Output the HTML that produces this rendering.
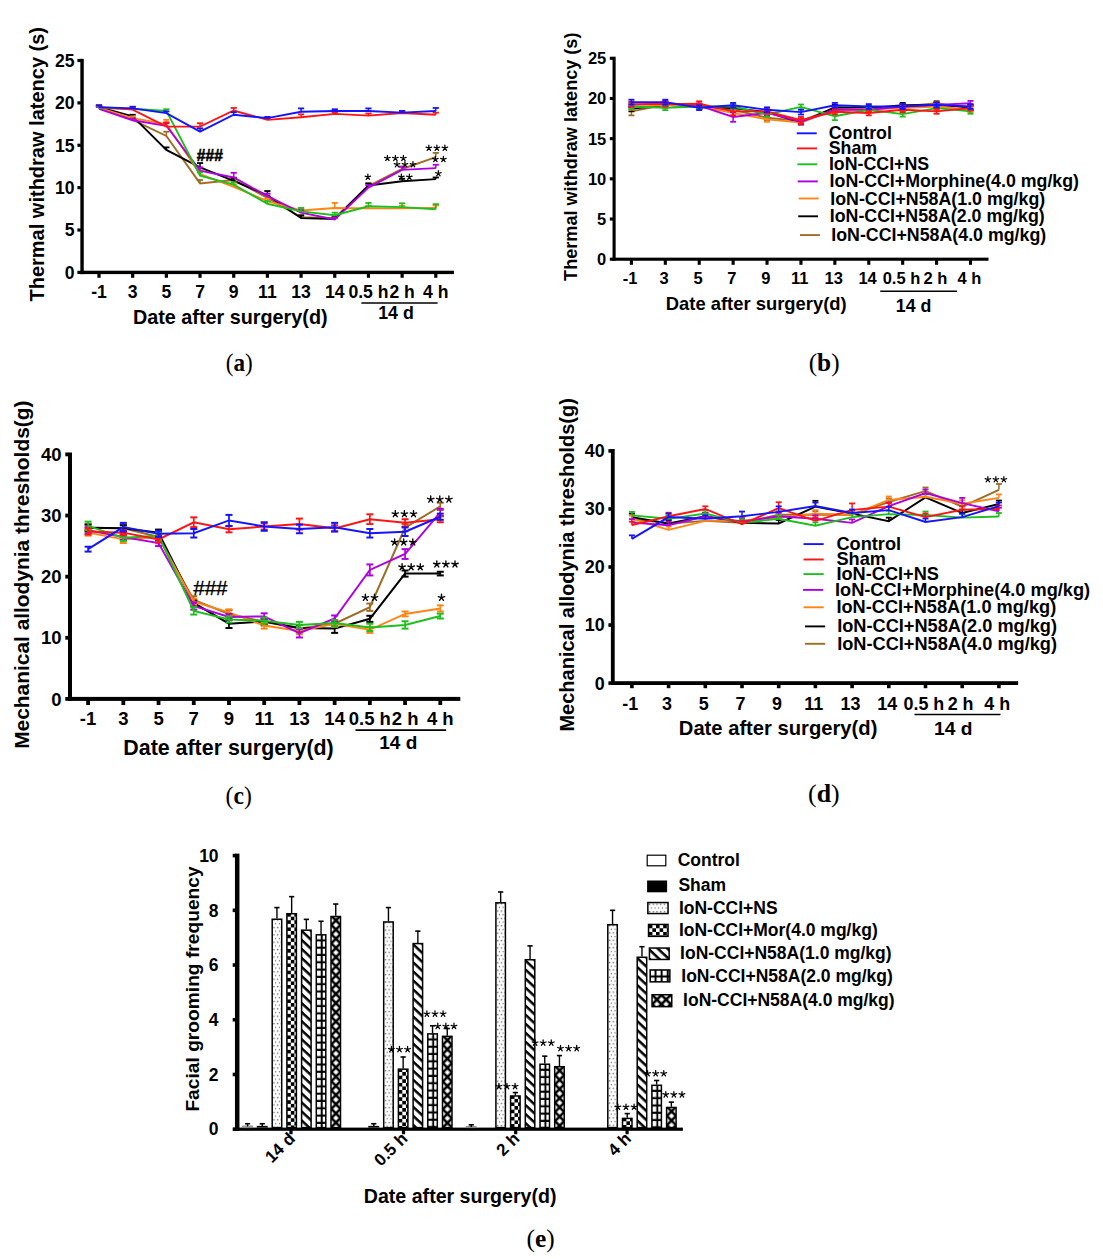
<!DOCTYPE html><html><head><meta charset="utf-8"><style>html,body{margin:0;padding:0;background:#fff;}svg{display:block;}</style></head><body>
<svg width="1103" height="1259" viewBox="0 0 1103 1259">
<rect width="1103" height="1259" fill="#fff"/>
<rect x="80.35" y="58.80" width="3.40" height="215.30" fill="#000" />
<rect x="80.35" y="270.70" width="373.55" height="3.40" fill="#000" />
<rect x="77.40" y="270.80" width="3.45" height="3.20" fill="#000" />
<text x="74.60" y="278.70" font-family='"Liberation Sans", sans-serif' font-size="17.6" font-weight="bold" text-anchor="end" fill="#000" >0</text>
<rect x="77.40" y="228.42" width="3.45" height="3.20" fill="#000" />
<text x="74.60" y="236.32" font-family='"Liberation Sans", sans-serif' font-size="17.6" font-weight="bold" text-anchor="end" fill="#000" >5</text>
<rect x="77.40" y="186.04" width="3.45" height="3.20" fill="#000" />
<text x="74.60" y="193.94" font-family='"Liberation Sans", sans-serif' font-size="17.6" font-weight="bold" text-anchor="end" fill="#000" >10</text>
<rect x="77.40" y="143.66" width="3.45" height="3.20" fill="#000" />
<text x="74.60" y="151.56" font-family='"Liberation Sans", sans-serif' font-size="17.6" font-weight="bold" text-anchor="end" fill="#000" >15</text>
<rect x="77.40" y="101.28" width="3.45" height="3.20" fill="#000" />
<text x="74.60" y="109.18" font-family='"Liberation Sans", sans-serif' font-size="17.6" font-weight="bold" text-anchor="end" fill="#000" >20</text>
<rect x="77.40" y="58.90" width="3.45" height="3.20" fill="#000" />
<text x="74.60" y="66.80" font-family='"Liberation Sans", sans-serif' font-size="17.6" font-weight="bold" text-anchor="end" fill="#000" >25</text>
<rect x="97.40" y="272.40" width="3.20" height="5.40" fill="#000" />
<rect x="131.08" y="272.40" width="3.20" height="5.40" fill="#000" />
<rect x="164.76" y="272.40" width="3.20" height="5.40" fill="#000" />
<rect x="198.44" y="272.40" width="3.20" height="5.40" fill="#000" />
<rect x="232.12" y="272.40" width="3.20" height="5.40" fill="#000" />
<rect x="265.80" y="272.40" width="3.20" height="5.40" fill="#000" />
<rect x="299.48" y="272.40" width="3.20" height="5.40" fill="#000" />
<rect x="333.16" y="272.40" width="3.20" height="5.40" fill="#000" />
<rect x="366.84" y="272.40" width="3.20" height="5.40" fill="#000" />
<rect x="400.52" y="272.40" width="3.20" height="5.40" fill="#000" />
<rect x="434.20" y="272.40" width="3.20" height="5.40" fill="#000" />
<text x="99.00" y="297.60" font-family='"Liberation Sans", sans-serif' font-size="17.6" font-weight="bold" text-anchor="middle" fill="#000" >-1</text>
<text x="132.68" y="297.60" font-family='"Liberation Sans", sans-serif' font-size="17.6" font-weight="bold" text-anchor="middle" fill="#000" >3</text>
<text x="166.36" y="297.60" font-family='"Liberation Sans", sans-serif' font-size="17.6" font-weight="bold" text-anchor="middle" fill="#000" >5</text>
<text x="200.04" y="297.60" font-family='"Liberation Sans", sans-serif' font-size="17.6" font-weight="bold" text-anchor="middle" fill="#000" >7</text>
<text x="233.72" y="297.60" font-family='"Liberation Sans", sans-serif' font-size="17.6" font-weight="bold" text-anchor="middle" fill="#000" >9</text>
<text x="267.40" y="297.60" font-family='"Liberation Sans", sans-serif' font-size="17.6" font-weight="bold" text-anchor="middle" fill="#000" >11</text>
<text x="301.08" y="297.60" font-family='"Liberation Sans", sans-serif' font-size="17.6" font-weight="bold" text-anchor="middle" fill="#000" >13</text>
<text x="334.76" y="297.60" font-family='"Liberation Sans", sans-serif' font-size="17.6" font-weight="bold" text-anchor="middle" fill="#000" >14</text>
<text x="368.44" y="297.60" font-family='"Liberation Sans", sans-serif' font-size="17.6" font-weight="bold" text-anchor="middle" fill="#000" >0.5 h</text>
<text x="402.12" y="297.60" font-family='"Liberation Sans", sans-serif' font-size="17.6" font-weight="bold" text-anchor="middle" fill="#000" >2 h</text>
<text x="435.80" y="297.60" font-family='"Liberation Sans", sans-serif' font-size="17.6" font-weight="bold" text-anchor="middle" fill="#000" >4 h</text>
<line x1="361.40" y1="303.00" x2="437.60" y2="303.00" stroke="#000" stroke-width="1.5" stroke-linecap="butt"/>
<text x="396.00" y="319.20" font-family='"Liberation Sans", sans-serif' font-size="17.8" font-weight="bold" text-anchor="middle" fill="#000" >14 d</text>
<text x="133.00" y="323.60" font-family='"Liberation Sans", sans-serif' font-size="19.8" font-weight="bold" text-anchor="start" fill="#000" >Date after surgery(d)</text>
<text x="0.00" y="0.00" font-family='"Liberation Sans", sans-serif' font-size="20.0" font-weight="bold" text-anchor="start" fill="#000" transform="translate(44.20,301.50) rotate(-90)">Thermal withdraw latency (s)</text>
<polyline points="99.00,107.97 132.68,119.83 166.36,135.94 200.04,183.40 233.72,180.01 267.40,197.81 301.08,217.31 334.76,218.15 368.44,185.94 402.12,168.99 435.80,157.13" fill="none" stroke="#9f6c26" stroke-width="1.9" stroke-linejoin="miter"/>
<line x1="99.00" y1="106.27" x2="99.00" y2="107.97" stroke="#9f6c26" stroke-width="1.5" stroke-linecap="butt"/>
<line x1="95.90" y1="106.27" x2="102.10" y2="106.27" stroke="#9f6c26" stroke-width="1.8" stroke-linecap="butt"/>
<line x1="132.68" y1="118.14" x2="132.68" y2="119.83" stroke="#9f6c26" stroke-width="1.5" stroke-linecap="butt"/>
<line x1="129.58" y1="118.14" x2="135.78" y2="118.14" stroke="#9f6c26" stroke-width="1.8" stroke-linecap="butt"/>
<line x1="166.36" y1="131.70" x2="166.36" y2="135.94" stroke="#9f6c26" stroke-width="1.5" stroke-linecap="butt"/>
<line x1="163.26" y1="131.70" x2="169.46" y2="131.70" stroke="#9f6c26" stroke-width="1.8" stroke-linecap="butt"/>
<line x1="200.04" y1="180.01" x2="200.04" y2="183.40" stroke="#9f6c26" stroke-width="1.5" stroke-linecap="butt"/>
<line x1="196.94" y1="180.01" x2="203.14" y2="180.01" stroke="#9f6c26" stroke-width="1.8" stroke-linecap="butt"/>
<line x1="233.72" y1="177.47" x2="233.72" y2="180.01" stroke="#9f6c26" stroke-width="1.5" stroke-linecap="butt"/>
<line x1="230.62" y1="177.47" x2="236.82" y2="177.47" stroke="#9f6c26" stroke-width="1.8" stroke-linecap="butt"/>
<line x1="267.40" y1="195.27" x2="267.40" y2="197.81" stroke="#9f6c26" stroke-width="1.5" stroke-linecap="butt"/>
<line x1="264.30" y1="195.27" x2="270.50" y2="195.27" stroke="#9f6c26" stroke-width="1.8" stroke-linecap="butt"/>
<line x1="301.08" y1="214.76" x2="301.08" y2="217.31" stroke="#9f6c26" stroke-width="1.5" stroke-linecap="butt"/>
<line x1="297.98" y1="214.76" x2="304.18" y2="214.76" stroke="#9f6c26" stroke-width="1.8" stroke-linecap="butt"/>
<line x1="334.76" y1="216.46" x2="334.76" y2="218.15" stroke="#9f6c26" stroke-width="1.5" stroke-linecap="butt"/>
<line x1="331.66" y1="216.46" x2="337.86" y2="216.46" stroke="#9f6c26" stroke-width="1.8" stroke-linecap="butt"/>
<line x1="368.44" y1="183.40" x2="368.44" y2="185.94" stroke="#9f6c26" stroke-width="1.5" stroke-linecap="butt"/>
<line x1="365.34" y1="183.40" x2="371.54" y2="183.40" stroke="#9f6c26" stroke-width="1.8" stroke-linecap="butt"/>
<line x1="402.12" y1="166.45" x2="402.12" y2="168.99" stroke="#9f6c26" stroke-width="1.5" stroke-linecap="butt"/>
<line x1="399.02" y1="166.45" x2="405.22" y2="166.45" stroke="#9f6c26" stroke-width="1.8" stroke-linecap="butt"/>
<line x1="435.80" y1="152.89" x2="435.80" y2="157.13" stroke="#9f6c26" stroke-width="1.5" stroke-linecap="butt"/>
<line x1="432.70" y1="152.89" x2="438.90" y2="152.89" stroke="#9f6c26" stroke-width="1.8" stroke-linecap="butt"/>
<polyline points="99.00,107.12 132.68,116.44 166.36,149.92 200.04,167.30 233.72,180.86 267.40,195.27 301.08,218.15 334.76,219.00 368.44,185.52 402.12,181.28 435.80,179.16" fill="none" stroke="#000000" stroke-width="1.9" stroke-linejoin="miter"/>
<line x1="99.00" y1="105.42" x2="99.00" y2="107.12" stroke="#000000" stroke-width="1.5" stroke-linecap="butt"/>
<line x1="95.90" y1="105.42" x2="102.10" y2="105.42" stroke="#000000" stroke-width="1.8" stroke-linecap="butt"/>
<line x1="132.68" y1="114.75" x2="132.68" y2="116.44" stroke="#000000" stroke-width="1.5" stroke-linecap="butt"/>
<line x1="129.58" y1="114.75" x2="135.78" y2="114.75" stroke="#000000" stroke-width="1.8" stroke-linecap="butt"/>
<line x1="166.36" y1="147.38" x2="166.36" y2="149.92" stroke="#000000" stroke-width="1.5" stroke-linecap="butt"/>
<line x1="163.26" y1="147.38" x2="169.46" y2="147.38" stroke="#000000" stroke-width="1.8" stroke-linecap="butt"/>
<line x1="200.04" y1="163.06" x2="200.04" y2="167.30" stroke="#000000" stroke-width="1.5" stroke-linecap="butt"/>
<line x1="196.94" y1="163.06" x2="203.14" y2="163.06" stroke="#000000" stroke-width="1.8" stroke-linecap="butt"/>
<line x1="233.72" y1="178.32" x2="233.72" y2="180.86" stroke="#000000" stroke-width="1.5" stroke-linecap="butt"/>
<line x1="230.62" y1="178.32" x2="236.82" y2="178.32" stroke="#000000" stroke-width="1.8" stroke-linecap="butt"/>
<line x1="267.40" y1="191.03" x2="267.40" y2="195.27" stroke="#000000" stroke-width="1.5" stroke-linecap="butt"/>
<line x1="264.30" y1="191.03" x2="270.50" y2="191.03" stroke="#000000" stroke-width="1.8" stroke-linecap="butt"/>
<line x1="301.08" y1="215.61" x2="301.08" y2="218.15" stroke="#000000" stroke-width="1.5" stroke-linecap="butt"/>
<line x1="297.98" y1="215.61" x2="304.18" y2="215.61" stroke="#000000" stroke-width="1.8" stroke-linecap="butt"/>
<line x1="334.76" y1="217.31" x2="334.76" y2="219.00" stroke="#000000" stroke-width="1.5" stroke-linecap="butt"/>
<line x1="331.66" y1="217.31" x2="337.86" y2="217.31" stroke="#000000" stroke-width="1.8" stroke-linecap="butt"/>
<line x1="368.44" y1="183.40" x2="368.44" y2="185.52" stroke="#000000" stroke-width="1.5" stroke-linecap="butt"/>
<line x1="365.34" y1="183.40" x2="371.54" y2="183.40" stroke="#000000" stroke-width="1.8" stroke-linecap="butt"/>
<line x1="402.12" y1="178.74" x2="402.12" y2="181.28" stroke="#000000" stroke-width="1.5" stroke-linecap="butt"/>
<line x1="399.02" y1="178.74" x2="405.22" y2="178.74" stroke="#000000" stroke-width="1.8" stroke-linecap="butt"/>
<line x1="435.80" y1="177.47" x2="435.80" y2="179.16" stroke="#000000" stroke-width="1.5" stroke-linecap="butt"/>
<line x1="432.70" y1="177.47" x2="438.90" y2="177.47" stroke="#000000" stroke-width="1.8" stroke-linecap="butt"/>
<polyline points="99.00,107.97 132.68,118.14 166.36,124.07 200.04,174.08 233.72,186.79 267.40,201.20 301.08,210.53 334.76,207.98 368.44,208.41 402.12,208.41 435.80,207.98" fill="none" stroke="#ff8414" stroke-width="1.9" stroke-linejoin="miter"/>
<line x1="99.00" y1="106.27" x2="99.00" y2="107.97" stroke="#ff8414" stroke-width="1.5" stroke-linecap="butt"/>
<line x1="95.90" y1="106.27" x2="102.10" y2="106.27" stroke="#ff8414" stroke-width="1.8" stroke-linecap="butt"/>
<line x1="132.68" y1="116.44" x2="132.68" y2="118.14" stroke="#ff8414" stroke-width="1.5" stroke-linecap="butt"/>
<line x1="129.58" y1="116.44" x2="135.78" y2="116.44" stroke="#ff8414" stroke-width="1.8" stroke-linecap="butt"/>
<line x1="166.36" y1="119.83" x2="166.36" y2="124.07" stroke="#ff8414" stroke-width="1.5" stroke-linecap="butt"/>
<line x1="163.26" y1="119.83" x2="169.46" y2="119.83" stroke="#ff8414" stroke-width="1.8" stroke-linecap="butt"/>
<line x1="200.04" y1="170.69" x2="200.04" y2="174.08" stroke="#ff8414" stroke-width="1.5" stroke-linecap="butt"/>
<line x1="196.94" y1="170.69" x2="203.14" y2="170.69" stroke="#ff8414" stroke-width="1.8" stroke-linecap="butt"/>
<line x1="233.72" y1="184.25" x2="233.72" y2="186.79" stroke="#ff8414" stroke-width="1.5" stroke-linecap="butt"/>
<line x1="230.62" y1="184.25" x2="236.82" y2="184.25" stroke="#ff8414" stroke-width="1.8" stroke-linecap="butt"/>
<line x1="267.40" y1="198.66" x2="267.40" y2="201.20" stroke="#ff8414" stroke-width="1.5" stroke-linecap="butt"/>
<line x1="264.30" y1="198.66" x2="270.50" y2="198.66" stroke="#ff8414" stroke-width="1.8" stroke-linecap="butt"/>
<line x1="301.08" y1="207.98" x2="301.08" y2="210.53" stroke="#ff8414" stroke-width="1.5" stroke-linecap="butt"/>
<line x1="297.98" y1="207.98" x2="304.18" y2="207.98" stroke="#ff8414" stroke-width="1.8" stroke-linecap="butt"/>
<line x1="334.76" y1="202.90" x2="334.76" y2="207.98" stroke="#ff8414" stroke-width="1.5" stroke-linecap="butt"/>
<line x1="331.66" y1="202.90" x2="337.86" y2="202.90" stroke="#ff8414" stroke-width="1.8" stroke-linecap="butt"/>
<line x1="368.44" y1="205.86" x2="368.44" y2="208.41" stroke="#ff8414" stroke-width="1.5" stroke-linecap="butt"/>
<line x1="365.34" y1="205.86" x2="371.54" y2="205.86" stroke="#ff8414" stroke-width="1.8" stroke-linecap="butt"/>
<line x1="402.12" y1="205.86" x2="402.12" y2="208.41" stroke="#ff8414" stroke-width="1.5" stroke-linecap="butt"/>
<line x1="399.02" y1="205.86" x2="405.22" y2="205.86" stroke="#ff8414" stroke-width="1.8" stroke-linecap="butt"/>
<line x1="435.80" y1="205.44" x2="435.80" y2="207.98" stroke="#ff8414" stroke-width="1.5" stroke-linecap="butt"/>
<line x1="432.70" y1="205.44" x2="438.90" y2="205.44" stroke="#ff8414" stroke-width="1.8" stroke-linecap="butt"/>
<polyline points="99.00,108.81 132.68,120.26 166.36,125.77 200.04,170.69 233.72,177.47 267.40,196.12 301.08,212.64 334.76,219.42 368.44,187.64 402.12,169.84 435.80,168.15" fill="none" stroke="#b000e2" stroke-width="1.9" stroke-linejoin="miter"/>
<line x1="99.00" y1="107.12" x2="99.00" y2="108.81" stroke="#b000e2" stroke-width="1.5" stroke-linecap="butt"/>
<line x1="95.90" y1="107.12" x2="102.10" y2="107.12" stroke="#b000e2" stroke-width="1.8" stroke-linecap="butt"/>
<line x1="132.68" y1="118.56" x2="132.68" y2="120.26" stroke="#b000e2" stroke-width="1.5" stroke-linecap="butt"/>
<line x1="129.58" y1="118.56" x2="135.78" y2="118.56" stroke="#b000e2" stroke-width="1.8" stroke-linecap="butt"/>
<line x1="166.36" y1="123.22" x2="166.36" y2="125.77" stroke="#b000e2" stroke-width="1.5" stroke-linecap="butt"/>
<line x1="163.26" y1="123.22" x2="169.46" y2="123.22" stroke="#b000e2" stroke-width="1.8" stroke-linecap="butt"/>
<line x1="200.04" y1="167.30" x2="200.04" y2="170.69" stroke="#b000e2" stroke-width="1.5" stroke-linecap="butt"/>
<line x1="196.94" y1="167.30" x2="203.14" y2="167.30" stroke="#b000e2" stroke-width="1.8" stroke-linecap="butt"/>
<line x1="233.72" y1="172.81" x2="233.72" y2="177.47" stroke="#b000e2" stroke-width="1.5" stroke-linecap="butt"/>
<line x1="230.62" y1="172.81" x2="236.82" y2="172.81" stroke="#b000e2" stroke-width="1.8" stroke-linecap="butt"/>
<line x1="267.40" y1="193.57" x2="267.40" y2="196.12" stroke="#b000e2" stroke-width="1.5" stroke-linecap="butt"/>
<line x1="264.30" y1="193.57" x2="270.50" y2="193.57" stroke="#b000e2" stroke-width="1.8" stroke-linecap="butt"/>
<line x1="301.08" y1="210.10" x2="301.08" y2="212.64" stroke="#b000e2" stroke-width="1.5" stroke-linecap="butt"/>
<line x1="297.98" y1="210.10" x2="304.18" y2="210.10" stroke="#b000e2" stroke-width="1.8" stroke-linecap="butt"/>
<line x1="334.76" y1="217.73" x2="334.76" y2="219.42" stroke="#b000e2" stroke-width="1.5" stroke-linecap="butt"/>
<line x1="331.66" y1="217.73" x2="337.86" y2="217.73" stroke="#b000e2" stroke-width="1.8" stroke-linecap="butt"/>
<line x1="368.44" y1="185.10" x2="368.44" y2="187.64" stroke="#b000e2" stroke-width="1.5" stroke-linecap="butt"/>
<line x1="365.34" y1="185.10" x2="371.54" y2="185.10" stroke="#b000e2" stroke-width="1.8" stroke-linecap="butt"/>
<line x1="402.12" y1="166.87" x2="402.12" y2="169.84" stroke="#b000e2" stroke-width="1.5" stroke-linecap="butt"/>
<line x1="399.02" y1="166.87" x2="405.22" y2="166.87" stroke="#b000e2" stroke-width="1.8" stroke-linecap="butt"/>
<line x1="435.80" y1="164.75" x2="435.80" y2="168.15" stroke="#b000e2" stroke-width="1.5" stroke-linecap="butt"/>
<line x1="432.70" y1="164.75" x2="438.90" y2="164.75" stroke="#b000e2" stroke-width="1.8" stroke-linecap="butt"/>
<polyline points="99.00,107.97 132.68,108.81 166.36,110.93 200.04,175.77 233.72,184.67 267.40,203.74 301.08,211.37 334.76,215.19 368.44,206.29 402.12,207.13 435.80,209.25" fill="none" stroke="#1ebe1e" stroke-width="1.9" stroke-linejoin="miter"/>
<line x1="99.00" y1="106.27" x2="99.00" y2="107.97" stroke="#1ebe1e" stroke-width="1.5" stroke-linecap="butt"/>
<line x1="95.90" y1="106.27" x2="102.10" y2="106.27" stroke="#1ebe1e" stroke-width="1.8" stroke-linecap="butt"/>
<line x1="132.68" y1="107.12" x2="132.68" y2="108.81" stroke="#1ebe1e" stroke-width="1.5" stroke-linecap="butt"/>
<line x1="129.58" y1="107.12" x2="135.78" y2="107.12" stroke="#1ebe1e" stroke-width="1.8" stroke-linecap="butt"/>
<line x1="166.36" y1="109.24" x2="166.36" y2="110.93" stroke="#1ebe1e" stroke-width="1.5" stroke-linecap="butt"/>
<line x1="163.26" y1="109.24" x2="169.46" y2="109.24" stroke="#1ebe1e" stroke-width="1.8" stroke-linecap="butt"/>
<line x1="200.04" y1="172.38" x2="200.04" y2="175.77" stroke="#1ebe1e" stroke-width="1.5" stroke-linecap="butt"/>
<line x1="196.94" y1="172.38" x2="203.14" y2="172.38" stroke="#1ebe1e" stroke-width="1.8" stroke-linecap="butt"/>
<line x1="233.72" y1="182.13" x2="233.72" y2="184.67" stroke="#1ebe1e" stroke-width="1.5" stroke-linecap="butt"/>
<line x1="230.62" y1="182.13" x2="236.82" y2="182.13" stroke="#1ebe1e" stroke-width="1.8" stroke-linecap="butt"/>
<line x1="267.40" y1="201.20" x2="267.40" y2="203.74" stroke="#1ebe1e" stroke-width="1.5" stroke-linecap="butt"/>
<line x1="264.30" y1="201.20" x2="270.50" y2="201.20" stroke="#1ebe1e" stroke-width="1.8" stroke-linecap="butt"/>
<line x1="301.08" y1="207.98" x2="301.08" y2="211.37" stroke="#1ebe1e" stroke-width="1.5" stroke-linecap="butt"/>
<line x1="297.98" y1="207.98" x2="304.18" y2="207.98" stroke="#1ebe1e" stroke-width="1.8" stroke-linecap="butt"/>
<line x1="334.76" y1="212.64" x2="334.76" y2="215.19" stroke="#1ebe1e" stroke-width="1.5" stroke-linecap="butt"/>
<line x1="331.66" y1="212.64" x2="337.86" y2="212.64" stroke="#1ebe1e" stroke-width="1.8" stroke-linecap="butt"/>
<line x1="368.44" y1="202.90" x2="368.44" y2="206.29" stroke="#1ebe1e" stroke-width="1.5" stroke-linecap="butt"/>
<line x1="365.34" y1="202.90" x2="371.54" y2="202.90" stroke="#1ebe1e" stroke-width="1.8" stroke-linecap="butt"/>
<line x1="402.12" y1="203.32" x2="402.12" y2="207.13" stroke="#1ebe1e" stroke-width="1.5" stroke-linecap="butt"/>
<line x1="399.02" y1="203.32" x2="405.22" y2="203.32" stroke="#1ebe1e" stroke-width="1.8" stroke-linecap="butt"/>
<line x1="435.80" y1="204.17" x2="435.80" y2="209.25" stroke="#1ebe1e" stroke-width="1.5" stroke-linecap="butt"/>
<line x1="432.70" y1="204.17" x2="438.90" y2="204.17" stroke="#1ebe1e" stroke-width="1.8" stroke-linecap="butt"/>
<polyline points="99.00,107.12 132.68,109.66 166.36,126.61 200.04,126.61 233.72,110.51 267.40,119.83 301.08,117.29 334.76,113.90 368.44,115.59 402.12,113.05 435.80,114.75" fill="none" stroke="#ff1414" stroke-width="1.9" stroke-linejoin="miter"/>
<line x1="99.00" y1="105.42" x2="99.00" y2="107.12" stroke="#ff1414" stroke-width="1.5" stroke-linecap="butt"/>
<line x1="95.90" y1="105.42" x2="102.10" y2="105.42" stroke="#ff1414" stroke-width="1.8" stroke-linecap="butt"/>
<line x1="132.68" y1="107.97" x2="132.68" y2="109.66" stroke="#ff1414" stroke-width="1.5" stroke-linecap="butt"/>
<line x1="129.58" y1="107.97" x2="135.78" y2="107.97" stroke="#ff1414" stroke-width="1.8" stroke-linecap="butt"/>
<line x1="166.36" y1="122.37" x2="166.36" y2="126.61" stroke="#ff1414" stroke-width="1.5" stroke-linecap="butt"/>
<line x1="163.26" y1="122.37" x2="169.46" y2="122.37" stroke="#ff1414" stroke-width="1.8" stroke-linecap="butt"/>
<line x1="200.04" y1="123.22" x2="200.04" y2="126.61" stroke="#ff1414" stroke-width="1.5" stroke-linecap="butt"/>
<line x1="196.94" y1="123.22" x2="203.14" y2="123.22" stroke="#ff1414" stroke-width="1.8" stroke-linecap="butt"/>
<line x1="233.72" y1="107.97" x2="233.72" y2="110.51" stroke="#ff1414" stroke-width="1.5" stroke-linecap="butt"/>
<line x1="230.62" y1="107.97" x2="236.82" y2="107.97" stroke="#ff1414" stroke-width="1.8" stroke-linecap="butt"/>
<line x1="267.40" y1="118.56" x2="267.40" y2="119.83" stroke="#ff1414" stroke-width="1.5" stroke-linecap="butt"/>
<line x1="264.30" y1="118.56" x2="270.50" y2="118.56" stroke="#ff1414" stroke-width="1.8" stroke-linecap="butt"/>
<line x1="301.08" y1="114.32" x2="301.08" y2="117.29" stroke="#ff1414" stroke-width="1.5" stroke-linecap="butt"/>
<line x1="297.98" y1="114.32" x2="304.18" y2="114.32" stroke="#ff1414" stroke-width="1.8" stroke-linecap="butt"/>
<line x1="334.76" y1="112.20" x2="334.76" y2="113.90" stroke="#ff1414" stroke-width="1.5" stroke-linecap="butt"/>
<line x1="331.66" y1="112.20" x2="337.86" y2="112.20" stroke="#ff1414" stroke-width="1.8" stroke-linecap="butt"/>
<line x1="368.44" y1="113.47" x2="368.44" y2="115.59" stroke="#ff1414" stroke-width="1.5" stroke-linecap="butt"/>
<line x1="365.34" y1="113.47" x2="371.54" y2="113.47" stroke="#ff1414" stroke-width="1.8" stroke-linecap="butt"/>
<line x1="402.12" y1="111.36" x2="402.12" y2="113.05" stroke="#ff1414" stroke-width="1.5" stroke-linecap="butt"/>
<line x1="399.02" y1="111.36" x2="405.22" y2="111.36" stroke="#ff1414" stroke-width="1.8" stroke-linecap="butt"/>
<line x1="435.80" y1="112.63" x2="435.80" y2="114.75" stroke="#ff1414" stroke-width="1.5" stroke-linecap="butt"/>
<line x1="432.70" y1="112.63" x2="438.90" y2="112.63" stroke="#ff1414" stroke-width="1.8" stroke-linecap="butt"/>
<polyline points="99.00,107.12 132.68,108.39 166.36,113.05 200.04,131.70 233.72,114.75 267.40,118.14 301.08,111.78 334.76,110.93 368.44,110.93 402.12,112.63 435.80,110.93" fill="none" stroke="#1414ff" stroke-width="1.9" stroke-linejoin="miter"/>
<line x1="99.00" y1="105.42" x2="99.00" y2="107.12" stroke="#1414ff" stroke-width="1.5" stroke-linecap="butt"/>
<line x1="95.90" y1="105.42" x2="102.10" y2="105.42" stroke="#1414ff" stroke-width="1.8" stroke-linecap="butt"/>
<line x1="132.68" y1="106.69" x2="132.68" y2="108.39" stroke="#1414ff" stroke-width="1.5" stroke-linecap="butt"/>
<line x1="129.58" y1="106.69" x2="135.78" y2="106.69" stroke="#1414ff" stroke-width="1.8" stroke-linecap="butt"/>
<line x1="166.36" y1="111.36" x2="166.36" y2="113.05" stroke="#1414ff" stroke-width="1.5" stroke-linecap="butt"/>
<line x1="163.26" y1="111.36" x2="169.46" y2="111.36" stroke="#1414ff" stroke-width="1.8" stroke-linecap="butt"/>
<line x1="200.04" y1="128.31" x2="200.04" y2="131.70" stroke="#1414ff" stroke-width="1.5" stroke-linecap="butt"/>
<line x1="196.94" y1="128.31" x2="203.14" y2="128.31" stroke="#1414ff" stroke-width="1.8" stroke-linecap="butt"/>
<line x1="233.72" y1="112.20" x2="233.72" y2="114.75" stroke="#1414ff" stroke-width="1.5" stroke-linecap="butt"/>
<line x1="230.62" y1="112.20" x2="236.82" y2="112.20" stroke="#1414ff" stroke-width="1.8" stroke-linecap="butt"/>
<line x1="267.40" y1="116.87" x2="267.40" y2="118.14" stroke="#1414ff" stroke-width="1.5" stroke-linecap="butt"/>
<line x1="264.30" y1="116.87" x2="270.50" y2="116.87" stroke="#1414ff" stroke-width="1.8" stroke-linecap="butt"/>
<line x1="301.08" y1="108.39" x2="301.08" y2="111.78" stroke="#1414ff" stroke-width="1.5" stroke-linecap="butt"/>
<line x1="297.98" y1="108.39" x2="304.18" y2="108.39" stroke="#1414ff" stroke-width="1.8" stroke-linecap="butt"/>
<line x1="334.76" y1="109.24" x2="334.76" y2="110.93" stroke="#1414ff" stroke-width="1.5" stroke-linecap="butt"/>
<line x1="331.66" y1="109.24" x2="337.86" y2="109.24" stroke="#1414ff" stroke-width="1.8" stroke-linecap="butt"/>
<line x1="368.44" y1="108.39" x2="368.44" y2="110.93" stroke="#1414ff" stroke-width="1.5" stroke-linecap="butt"/>
<line x1="365.34" y1="108.39" x2="371.54" y2="108.39" stroke="#1414ff" stroke-width="1.8" stroke-linecap="butt"/>
<line x1="402.12" y1="110.93" x2="402.12" y2="112.63" stroke="#1414ff" stroke-width="1.5" stroke-linecap="butt"/>
<line x1="399.02" y1="110.93" x2="405.22" y2="110.93" stroke="#1414ff" stroke-width="1.8" stroke-linecap="butt"/>
<line x1="435.80" y1="107.97" x2="435.80" y2="110.93" stroke="#1414ff" stroke-width="1.5" stroke-linecap="butt"/>
<line x1="432.70" y1="107.97" x2="438.90" y2="107.97" stroke="#1414ff" stroke-width="1.8" stroke-linecap="butt"/>
<text x="196.80" y="160.60" font-family='"Liberation Sans", sans-serif' font-size="15.6" font-weight="bold" text-anchor="start" fill="#000" stroke="#000" stroke-width="0.55">###</text>
<path d="M428.88,148.03L428.88,145.12M428.88,148.03L431.64,147.13M428.88,148.03L430.59,150.37M428.88,148.03L427.18,150.37M428.88,148.03L426.12,147.13" stroke="#000" stroke-width="1.25" stroke-linecap="round" fill="none"/>
<path d="M436.88,148.03L436.88,145.12M436.88,148.03L439.64,147.13M436.88,148.03L438.59,150.37M436.88,148.03L435.18,150.37M436.88,148.03L434.12,147.13" stroke="#000" stroke-width="1.25" stroke-linecap="round" fill="none"/>
<path d="M444.88,148.03L444.88,145.12M444.88,148.03L447.64,147.13M444.88,148.03L446.59,150.37M444.88,148.03L443.18,150.37M444.88,148.03L442.12,147.13" stroke="#000" stroke-width="1.25" stroke-linecap="round" fill="none"/>
<path d="M435.38,159.33L435.38,156.43M435.38,159.33L438.14,158.43M435.38,159.33L437.09,161.67M435.38,159.33L433.68,161.67M435.38,159.33L432.62,158.43" stroke="#000" stroke-width="1.25" stroke-linecap="round" fill="none"/>
<path d="M443.38,159.33L443.38,156.43M443.38,159.33L446.14,158.43M443.38,159.33L445.09,161.67M443.38,159.33L441.68,161.67M443.38,159.33L440.62,158.43" stroke="#000" stroke-width="1.25" stroke-linecap="round" fill="none"/>
<path d="M438.38,173.53L438.38,170.62M438.38,173.53L441.14,172.63M438.38,173.53L440.09,175.87M438.38,173.53L436.68,175.87M438.38,173.53L435.62,172.63" stroke="#000" stroke-width="1.25" stroke-linecap="round" fill="none"/>
<path d="M387.38,158.22L387.38,155.32M387.38,158.22L390.14,157.33M387.38,158.22L389.09,160.57M387.38,158.22L385.68,160.57M387.38,158.22L384.62,157.33" stroke="#000" stroke-width="1.25" stroke-linecap="round" fill="none"/>
<path d="M395.38,158.22L395.38,155.32M395.38,158.22L398.14,157.33M395.38,158.22L397.09,160.57M395.38,158.22L393.68,160.57M395.38,158.22L392.62,157.33" stroke="#000" stroke-width="1.25" stroke-linecap="round" fill="none"/>
<path d="M403.38,158.22L403.38,155.32M403.38,158.22L406.14,157.33M403.38,158.22L405.09,160.57M403.38,158.22L401.68,160.57M403.38,158.22L400.62,157.33" stroke="#000" stroke-width="1.25" stroke-linecap="round" fill="none"/>
<path d="M396.98,164.53L396.98,161.62M396.98,164.53L399.74,163.63M396.98,164.53L398.69,166.87M396.98,164.53L395.28,166.87M396.98,164.53L394.22,163.63" stroke="#000" stroke-width="1.25" stroke-linecap="round" fill="none"/>
<path d="M404.98,164.53L404.98,161.62M404.98,164.53L407.74,163.63M404.98,164.53L406.69,166.87M404.98,164.53L403.28,166.87M404.98,164.53L402.22,163.63" stroke="#000" stroke-width="1.25" stroke-linecap="round" fill="none"/>
<path d="M412.98,164.53L412.98,161.62M412.98,164.53L415.74,163.63M412.98,164.53L414.69,166.87M412.98,164.53L411.28,166.87M412.98,164.53L410.22,163.63" stroke="#000" stroke-width="1.25" stroke-linecap="round" fill="none"/>
<path d="M401.38,177.03L401.38,174.12M401.38,177.03L404.14,176.13M401.38,177.03L403.09,179.37M401.38,177.03L399.68,179.37M401.38,177.03L398.62,176.13" stroke="#000" stroke-width="1.25" stroke-linecap="round" fill="none"/>
<path d="M409.38,177.03L409.38,174.12M409.38,177.03L412.14,176.13M409.38,177.03L411.09,179.37M409.38,177.03L407.68,179.37M409.38,177.03L406.62,176.13" stroke="#000" stroke-width="1.25" stroke-linecap="round" fill="none"/>
<path d="M367.88,177.03L367.88,174.12M367.88,177.03L370.64,176.13M367.88,177.03L369.59,179.37M367.88,177.03L366.18,179.37M367.88,177.03L365.12,176.13" stroke="#000" stroke-width="1.25" stroke-linecap="round" fill="none"/>
<rect x="612.55" y="56.70" width="3.10" height="204.05" fill="#000" />
<rect x="612.55" y="257.65" width="375.95" height="3.10" fill="#000" />
<rect x="609.80" y="257.65" width="3.25" height="3.10" fill="#000" />
<text x="606.30" y="265.20" font-family='"Liberation Sans", sans-serif' font-size="16.5" font-weight="bold" text-anchor="end" fill="#000" >0</text>
<rect x="609.80" y="217.47" width="3.25" height="3.10" fill="#000" />
<text x="606.30" y="225.02" font-family='"Liberation Sans", sans-serif' font-size="16.5" font-weight="bold" text-anchor="end" fill="#000" >5</text>
<rect x="609.80" y="177.29" width="3.25" height="3.10" fill="#000" />
<text x="606.30" y="184.84" font-family='"Liberation Sans", sans-serif' font-size="16.5" font-weight="bold" text-anchor="end" fill="#000" >10</text>
<rect x="609.80" y="137.11" width="3.25" height="3.10" fill="#000" />
<text x="606.30" y="144.66" font-family='"Liberation Sans", sans-serif' font-size="16.5" font-weight="bold" text-anchor="end" fill="#000" >15</text>
<rect x="609.80" y="96.93" width="3.25" height="3.10" fill="#000" />
<text x="606.30" y="104.48" font-family='"Liberation Sans", sans-serif' font-size="16.5" font-weight="bold" text-anchor="end" fill="#000" >20</text>
<rect x="609.80" y="56.75" width="3.25" height="3.10" fill="#000" />
<text x="606.30" y="64.30" font-family='"Liberation Sans", sans-serif' font-size="16.5" font-weight="bold" text-anchor="end" fill="#000" >25</text>
<rect x="629.85" y="259.20" width="3.10" height="5.60" fill="#000" />
<rect x="663.76" y="259.20" width="3.10" height="5.60" fill="#000" />
<rect x="697.67" y="259.20" width="3.10" height="5.60" fill="#000" />
<rect x="731.58" y="259.20" width="3.10" height="5.60" fill="#000" />
<rect x="765.49" y="259.20" width="3.10" height="5.60" fill="#000" />
<rect x="799.40" y="259.20" width="3.10" height="5.60" fill="#000" />
<rect x="833.31" y="259.20" width="3.10" height="5.60" fill="#000" />
<rect x="867.22" y="259.20" width="3.10" height="5.60" fill="#000" />
<rect x="901.13" y="259.20" width="3.10" height="5.60" fill="#000" />
<rect x="935.04" y="259.20" width="3.10" height="5.60" fill="#000" />
<rect x="968.95" y="259.20" width="3.10" height="5.60" fill="#000" />
<text x="630.20" y="283.60" font-family='"Liberation Sans", sans-serif' font-size="16.5" font-weight="bold" text-anchor="middle" fill="#000" >-1</text>
<text x="664.11" y="283.60" font-family='"Liberation Sans", sans-serif' font-size="16.5" font-weight="bold" text-anchor="middle" fill="#000" >3</text>
<text x="698.02" y="283.60" font-family='"Liberation Sans", sans-serif' font-size="16.5" font-weight="bold" text-anchor="middle" fill="#000" >5</text>
<text x="731.93" y="283.60" font-family='"Liberation Sans", sans-serif' font-size="16.5" font-weight="bold" text-anchor="middle" fill="#000" >7</text>
<text x="765.84" y="283.60" font-family='"Liberation Sans", sans-serif' font-size="16.5" font-weight="bold" text-anchor="middle" fill="#000" >9</text>
<text x="799.75" y="283.60" font-family='"Liberation Sans", sans-serif' font-size="16.5" font-weight="bold" text-anchor="middle" fill="#000" >11</text>
<text x="833.66" y="283.60" font-family='"Liberation Sans", sans-serif' font-size="16.5" font-weight="bold" text-anchor="middle" fill="#000" >13</text>
<text x="867.57" y="283.60" font-family='"Liberation Sans", sans-serif' font-size="16.5" font-weight="bold" text-anchor="middle" fill="#000" >14</text>
<text x="901.48" y="283.60" font-family='"Liberation Sans", sans-serif' font-size="16.5" font-weight="bold" text-anchor="middle" fill="#000" >0.5 h</text>
<text x="935.39" y="283.60" font-family='"Liberation Sans", sans-serif' font-size="16.5" font-weight="bold" text-anchor="middle" fill="#000" >2 h</text>
<text x="969.30" y="283.60" font-family='"Liberation Sans", sans-serif' font-size="16.5" font-weight="bold" text-anchor="middle" fill="#000" >4 h</text>
<line x1="880.30" y1="291.30" x2="957.00" y2="291.30" stroke="#000" stroke-width="1.5" stroke-linecap="butt"/>
<text x="913.60" y="312.40" font-family='"Liberation Sans", sans-serif' font-size="17.8" font-weight="bold" text-anchor="middle" fill="#000" >14 d</text>
<text x="665.80" y="310.00" font-family='"Liberation Sans", sans-serif' font-size="18.4" font-weight="bold" text-anchor="start" fill="#000" >Date after surgery(d)</text>
<text x="0.00" y="0.00" font-family='"Liberation Sans", sans-serif' font-size="18.1" font-weight="bold" text-anchor="start" fill="#000" transform="translate(576.70,280.90) rotate(-90)">Thermal withdraw latency (s)</text>
<polyline points="631.40,111.34 665.31,104.91 699.22,106.52 733.13,109.73 767.04,117.77 800.95,120.98 834.86,108.12 868.77,109.73 902.68,106.52 936.59,103.30 970.50,108.12" fill="none" stroke="#9f6c26" stroke-width="1.9" stroke-linejoin="miter"/>
<line x1="631.40" y1="107.32" x2="631.40" y2="115.36" stroke="#9f6c26" stroke-width="1.5" stroke-linecap="butt"/>
<line x1="628.40" y1="107.32" x2="634.40" y2="107.32" stroke="#9f6c26" stroke-width="1.8" stroke-linecap="butt"/>
<line x1="628.40" y1="115.36" x2="634.40" y2="115.36" stroke="#9f6c26" stroke-width="1.8" stroke-linecap="butt"/>
<line x1="665.31" y1="102.50" x2="665.31" y2="107.32" stroke="#9f6c26" stroke-width="1.5" stroke-linecap="butt"/>
<line x1="662.31" y1="102.50" x2="668.31" y2="102.50" stroke="#9f6c26" stroke-width="1.8" stroke-linecap="butt"/>
<line x1="662.31" y1="107.32" x2="668.31" y2="107.32" stroke="#9f6c26" stroke-width="1.8" stroke-linecap="butt"/>
<line x1="699.22" y1="104.11" x2="699.22" y2="108.93" stroke="#9f6c26" stroke-width="1.5" stroke-linecap="butt"/>
<line x1="696.22" y1="104.11" x2="702.22" y2="104.11" stroke="#9f6c26" stroke-width="1.8" stroke-linecap="butt"/>
<line x1="696.22" y1="108.93" x2="702.22" y2="108.93" stroke="#9f6c26" stroke-width="1.8" stroke-linecap="butt"/>
<line x1="733.13" y1="107.32" x2="733.13" y2="112.14" stroke="#9f6c26" stroke-width="1.5" stroke-linecap="butt"/>
<line x1="730.13" y1="107.32" x2="736.13" y2="107.32" stroke="#9f6c26" stroke-width="1.8" stroke-linecap="butt"/>
<line x1="730.13" y1="112.14" x2="736.13" y2="112.14" stroke="#9f6c26" stroke-width="1.8" stroke-linecap="butt"/>
<line x1="767.04" y1="115.36" x2="767.04" y2="120.18" stroke="#9f6c26" stroke-width="1.5" stroke-linecap="butt"/>
<line x1="764.04" y1="115.36" x2="770.04" y2="115.36" stroke="#9f6c26" stroke-width="1.8" stroke-linecap="butt"/>
<line x1="764.04" y1="120.18" x2="770.04" y2="120.18" stroke="#9f6c26" stroke-width="1.8" stroke-linecap="butt"/>
<line x1="800.95" y1="118.57" x2="800.95" y2="123.39" stroke="#9f6c26" stroke-width="1.5" stroke-linecap="butt"/>
<line x1="797.95" y1="118.57" x2="803.95" y2="118.57" stroke="#9f6c26" stroke-width="1.8" stroke-linecap="butt"/>
<line x1="797.95" y1="123.39" x2="803.95" y2="123.39" stroke="#9f6c26" stroke-width="1.8" stroke-linecap="butt"/>
<line x1="834.86" y1="105.71" x2="834.86" y2="110.53" stroke="#9f6c26" stroke-width="1.5" stroke-linecap="butt"/>
<line x1="831.86" y1="105.71" x2="837.86" y2="105.71" stroke="#9f6c26" stroke-width="1.8" stroke-linecap="butt"/>
<line x1="831.86" y1="110.53" x2="837.86" y2="110.53" stroke="#9f6c26" stroke-width="1.8" stroke-linecap="butt"/>
<line x1="868.77" y1="107.32" x2="868.77" y2="112.14" stroke="#9f6c26" stroke-width="1.5" stroke-linecap="butt"/>
<line x1="865.77" y1="107.32" x2="871.77" y2="107.32" stroke="#9f6c26" stroke-width="1.8" stroke-linecap="butt"/>
<line x1="865.77" y1="112.14" x2="871.77" y2="112.14" stroke="#9f6c26" stroke-width="1.8" stroke-linecap="butt"/>
<line x1="902.68" y1="104.11" x2="902.68" y2="108.93" stroke="#9f6c26" stroke-width="1.5" stroke-linecap="butt"/>
<line x1="899.68" y1="104.11" x2="905.68" y2="104.11" stroke="#9f6c26" stroke-width="1.8" stroke-linecap="butt"/>
<line x1="899.68" y1="108.93" x2="905.68" y2="108.93" stroke="#9f6c26" stroke-width="1.8" stroke-linecap="butt"/>
<line x1="936.59" y1="100.89" x2="936.59" y2="105.71" stroke="#9f6c26" stroke-width="1.5" stroke-linecap="butt"/>
<line x1="933.59" y1="100.89" x2="939.59" y2="100.89" stroke="#9f6c26" stroke-width="1.8" stroke-linecap="butt"/>
<line x1="933.59" y1="105.71" x2="939.59" y2="105.71" stroke="#9f6c26" stroke-width="1.8" stroke-linecap="butt"/>
<line x1="970.50" y1="105.71" x2="970.50" y2="110.53" stroke="#9f6c26" stroke-width="1.5" stroke-linecap="butt"/>
<line x1="967.50" y1="105.71" x2="973.50" y2="105.71" stroke="#9f6c26" stroke-width="1.8" stroke-linecap="butt"/>
<line x1="967.50" y1="110.53" x2="973.50" y2="110.53" stroke="#9f6c26" stroke-width="1.8" stroke-linecap="butt"/>
<polyline points="631.40,108.93 665.31,104.91 699.22,106.52 733.13,108.12 767.04,112.14 800.95,122.59 834.86,107.32 868.77,108.12 902.68,105.31 936.59,104.91 970.50,107.32" fill="none" stroke="#000000" stroke-width="1.9" stroke-linejoin="miter"/>
<line x1="631.40" y1="106.52" x2="631.40" y2="111.34" stroke="#000000" stroke-width="1.5" stroke-linecap="butt"/>
<line x1="628.40" y1="106.52" x2="634.40" y2="106.52" stroke="#000000" stroke-width="1.8" stroke-linecap="butt"/>
<line x1="628.40" y1="111.34" x2="634.40" y2="111.34" stroke="#000000" stroke-width="1.8" stroke-linecap="butt"/>
<line x1="665.31" y1="102.50" x2="665.31" y2="107.32" stroke="#000000" stroke-width="1.5" stroke-linecap="butt"/>
<line x1="662.31" y1="102.50" x2="668.31" y2="102.50" stroke="#000000" stroke-width="1.8" stroke-linecap="butt"/>
<line x1="662.31" y1="107.32" x2="668.31" y2="107.32" stroke="#000000" stroke-width="1.8" stroke-linecap="butt"/>
<line x1="699.22" y1="104.11" x2="699.22" y2="108.93" stroke="#000000" stroke-width="1.5" stroke-linecap="butt"/>
<line x1="696.22" y1="104.11" x2="702.22" y2="104.11" stroke="#000000" stroke-width="1.8" stroke-linecap="butt"/>
<line x1="696.22" y1="108.93" x2="702.22" y2="108.93" stroke="#000000" stroke-width="1.8" stroke-linecap="butt"/>
<line x1="733.13" y1="105.71" x2="733.13" y2="110.53" stroke="#000000" stroke-width="1.5" stroke-linecap="butt"/>
<line x1="730.13" y1="105.71" x2="736.13" y2="105.71" stroke="#000000" stroke-width="1.8" stroke-linecap="butt"/>
<line x1="730.13" y1="110.53" x2="736.13" y2="110.53" stroke="#000000" stroke-width="1.8" stroke-linecap="butt"/>
<line x1="767.04" y1="109.73" x2="767.04" y2="114.55" stroke="#000000" stroke-width="1.5" stroke-linecap="butt"/>
<line x1="764.04" y1="109.73" x2="770.04" y2="109.73" stroke="#000000" stroke-width="1.8" stroke-linecap="butt"/>
<line x1="764.04" y1="114.55" x2="770.04" y2="114.55" stroke="#000000" stroke-width="1.8" stroke-linecap="butt"/>
<line x1="800.95" y1="120.18" x2="800.95" y2="125.00" stroke="#000000" stroke-width="1.5" stroke-linecap="butt"/>
<line x1="797.95" y1="120.18" x2="803.95" y2="120.18" stroke="#000000" stroke-width="1.8" stroke-linecap="butt"/>
<line x1="797.95" y1="125.00" x2="803.95" y2="125.00" stroke="#000000" stroke-width="1.8" stroke-linecap="butt"/>
<line x1="834.86" y1="104.91" x2="834.86" y2="109.73" stroke="#000000" stroke-width="1.5" stroke-linecap="butt"/>
<line x1="831.86" y1="104.91" x2="837.86" y2="104.91" stroke="#000000" stroke-width="1.8" stroke-linecap="butt"/>
<line x1="831.86" y1="109.73" x2="837.86" y2="109.73" stroke="#000000" stroke-width="1.8" stroke-linecap="butt"/>
<line x1="868.77" y1="105.71" x2="868.77" y2="110.53" stroke="#000000" stroke-width="1.5" stroke-linecap="butt"/>
<line x1="865.77" y1="105.71" x2="871.77" y2="105.71" stroke="#000000" stroke-width="1.8" stroke-linecap="butt"/>
<line x1="865.77" y1="110.53" x2="871.77" y2="110.53" stroke="#000000" stroke-width="1.8" stroke-linecap="butt"/>
<line x1="902.68" y1="102.90" x2="902.68" y2="107.72" stroke="#000000" stroke-width="1.5" stroke-linecap="butt"/>
<line x1="899.68" y1="102.90" x2="905.68" y2="102.90" stroke="#000000" stroke-width="1.8" stroke-linecap="butt"/>
<line x1="899.68" y1="107.72" x2="905.68" y2="107.72" stroke="#000000" stroke-width="1.8" stroke-linecap="butt"/>
<line x1="936.59" y1="102.50" x2="936.59" y2="107.32" stroke="#000000" stroke-width="1.5" stroke-linecap="butt"/>
<line x1="933.59" y1="102.50" x2="939.59" y2="102.50" stroke="#000000" stroke-width="1.8" stroke-linecap="butt"/>
<line x1="933.59" y1="107.32" x2="939.59" y2="107.32" stroke="#000000" stroke-width="1.8" stroke-linecap="butt"/>
<line x1="970.50" y1="104.91" x2="970.50" y2="109.73" stroke="#000000" stroke-width="1.5" stroke-linecap="butt"/>
<line x1="967.50" y1="104.91" x2="973.50" y2="104.91" stroke="#000000" stroke-width="1.8" stroke-linecap="butt"/>
<line x1="967.50" y1="109.73" x2="973.50" y2="109.73" stroke="#000000" stroke-width="1.8" stroke-linecap="butt"/>
<polyline points="631.40,107.32 665.31,104.91 699.22,106.52 733.13,112.94 767.04,119.37 800.95,122.59 834.86,109.73 868.77,108.93 902.68,108.12 936.59,106.52 970.50,109.73" fill="none" stroke="#ff8414" stroke-width="1.9" stroke-linejoin="miter"/>
<line x1="631.40" y1="104.91" x2="631.40" y2="109.73" stroke="#ff8414" stroke-width="1.5" stroke-linecap="butt"/>
<line x1="628.40" y1="104.91" x2="634.40" y2="104.91" stroke="#ff8414" stroke-width="1.8" stroke-linecap="butt"/>
<line x1="628.40" y1="109.73" x2="634.40" y2="109.73" stroke="#ff8414" stroke-width="1.8" stroke-linecap="butt"/>
<line x1="665.31" y1="102.50" x2="665.31" y2="107.32" stroke="#ff8414" stroke-width="1.5" stroke-linecap="butt"/>
<line x1="662.31" y1="102.50" x2="668.31" y2="102.50" stroke="#ff8414" stroke-width="1.8" stroke-linecap="butt"/>
<line x1="662.31" y1="107.32" x2="668.31" y2="107.32" stroke="#ff8414" stroke-width="1.8" stroke-linecap="butt"/>
<line x1="699.22" y1="104.11" x2="699.22" y2="108.93" stroke="#ff8414" stroke-width="1.5" stroke-linecap="butt"/>
<line x1="696.22" y1="104.11" x2="702.22" y2="104.11" stroke="#ff8414" stroke-width="1.8" stroke-linecap="butt"/>
<line x1="696.22" y1="108.93" x2="702.22" y2="108.93" stroke="#ff8414" stroke-width="1.8" stroke-linecap="butt"/>
<line x1="733.13" y1="110.53" x2="733.13" y2="115.36" stroke="#ff8414" stroke-width="1.5" stroke-linecap="butt"/>
<line x1="730.13" y1="110.53" x2="736.13" y2="110.53" stroke="#ff8414" stroke-width="1.8" stroke-linecap="butt"/>
<line x1="730.13" y1="115.36" x2="736.13" y2="115.36" stroke="#ff8414" stroke-width="1.8" stroke-linecap="butt"/>
<line x1="767.04" y1="116.96" x2="767.04" y2="121.78" stroke="#ff8414" stroke-width="1.5" stroke-linecap="butt"/>
<line x1="764.04" y1="116.96" x2="770.04" y2="116.96" stroke="#ff8414" stroke-width="1.8" stroke-linecap="butt"/>
<line x1="764.04" y1="121.78" x2="770.04" y2="121.78" stroke="#ff8414" stroke-width="1.8" stroke-linecap="butt"/>
<line x1="800.95" y1="120.18" x2="800.95" y2="125.00" stroke="#ff8414" stroke-width="1.5" stroke-linecap="butt"/>
<line x1="797.95" y1="120.18" x2="803.95" y2="120.18" stroke="#ff8414" stroke-width="1.8" stroke-linecap="butt"/>
<line x1="797.95" y1="125.00" x2="803.95" y2="125.00" stroke="#ff8414" stroke-width="1.8" stroke-linecap="butt"/>
<line x1="834.86" y1="107.32" x2="834.86" y2="112.14" stroke="#ff8414" stroke-width="1.5" stroke-linecap="butt"/>
<line x1="831.86" y1="107.32" x2="837.86" y2="107.32" stroke="#ff8414" stroke-width="1.8" stroke-linecap="butt"/>
<line x1="831.86" y1="112.14" x2="837.86" y2="112.14" stroke="#ff8414" stroke-width="1.8" stroke-linecap="butt"/>
<line x1="868.77" y1="106.52" x2="868.77" y2="111.34" stroke="#ff8414" stroke-width="1.5" stroke-linecap="butt"/>
<line x1="865.77" y1="106.52" x2="871.77" y2="106.52" stroke="#ff8414" stroke-width="1.8" stroke-linecap="butt"/>
<line x1="865.77" y1="111.34" x2="871.77" y2="111.34" stroke="#ff8414" stroke-width="1.8" stroke-linecap="butt"/>
<line x1="902.68" y1="105.71" x2="902.68" y2="110.53" stroke="#ff8414" stroke-width="1.5" stroke-linecap="butt"/>
<line x1="899.68" y1="105.71" x2="905.68" y2="105.71" stroke="#ff8414" stroke-width="1.8" stroke-linecap="butt"/>
<line x1="899.68" y1="110.53" x2="905.68" y2="110.53" stroke="#ff8414" stroke-width="1.8" stroke-linecap="butt"/>
<line x1="936.59" y1="104.11" x2="936.59" y2="108.93" stroke="#ff8414" stroke-width="1.5" stroke-linecap="butt"/>
<line x1="933.59" y1="104.11" x2="939.59" y2="104.11" stroke="#ff8414" stroke-width="1.8" stroke-linecap="butt"/>
<line x1="933.59" y1="108.93" x2="939.59" y2="108.93" stroke="#ff8414" stroke-width="1.8" stroke-linecap="butt"/>
<line x1="970.50" y1="107.32" x2="970.50" y2="112.14" stroke="#ff8414" stroke-width="1.5" stroke-linecap="butt"/>
<line x1="967.50" y1="107.32" x2="973.50" y2="107.32" stroke="#ff8414" stroke-width="1.8" stroke-linecap="butt"/>
<line x1="967.50" y1="112.14" x2="973.50" y2="112.14" stroke="#ff8414" stroke-width="1.8" stroke-linecap="butt"/>
<polyline points="631.40,104.91 665.31,103.30 699.22,105.71 733.13,116.96 767.04,112.94 800.95,121.78 834.86,109.73 868.77,109.73 902.68,106.52 936.59,104.91 970.50,103.30" fill="none" stroke="#b000e2" stroke-width="1.9" stroke-linejoin="miter"/>
<line x1="631.40" y1="102.50" x2="631.40" y2="107.32" stroke="#b000e2" stroke-width="1.5" stroke-linecap="butt"/>
<line x1="628.40" y1="102.50" x2="634.40" y2="102.50" stroke="#b000e2" stroke-width="1.8" stroke-linecap="butt"/>
<line x1="628.40" y1="107.32" x2="634.40" y2="107.32" stroke="#b000e2" stroke-width="1.8" stroke-linecap="butt"/>
<line x1="665.31" y1="100.89" x2="665.31" y2="105.71" stroke="#b000e2" stroke-width="1.5" stroke-linecap="butt"/>
<line x1="662.31" y1="100.89" x2="668.31" y2="100.89" stroke="#b000e2" stroke-width="1.8" stroke-linecap="butt"/>
<line x1="662.31" y1="105.71" x2="668.31" y2="105.71" stroke="#b000e2" stroke-width="1.8" stroke-linecap="butt"/>
<line x1="699.22" y1="103.30" x2="699.22" y2="108.12" stroke="#b000e2" stroke-width="1.5" stroke-linecap="butt"/>
<line x1="696.22" y1="103.30" x2="702.22" y2="103.30" stroke="#b000e2" stroke-width="1.8" stroke-linecap="butt"/>
<line x1="696.22" y1="108.12" x2="702.22" y2="108.12" stroke="#b000e2" stroke-width="1.8" stroke-linecap="butt"/>
<line x1="733.13" y1="112.14" x2="733.13" y2="121.78" stroke="#b000e2" stroke-width="1.5" stroke-linecap="butt"/>
<line x1="730.13" y1="112.14" x2="736.13" y2="112.14" stroke="#b000e2" stroke-width="1.8" stroke-linecap="butt"/>
<line x1="730.13" y1="121.78" x2="736.13" y2="121.78" stroke="#b000e2" stroke-width="1.8" stroke-linecap="butt"/>
<line x1="767.04" y1="110.53" x2="767.04" y2="115.36" stroke="#b000e2" stroke-width="1.5" stroke-linecap="butt"/>
<line x1="764.04" y1="110.53" x2="770.04" y2="110.53" stroke="#b000e2" stroke-width="1.8" stroke-linecap="butt"/>
<line x1="764.04" y1="115.36" x2="770.04" y2="115.36" stroke="#b000e2" stroke-width="1.8" stroke-linecap="butt"/>
<line x1="800.95" y1="119.37" x2="800.95" y2="124.20" stroke="#b000e2" stroke-width="1.5" stroke-linecap="butt"/>
<line x1="797.95" y1="119.37" x2="803.95" y2="119.37" stroke="#b000e2" stroke-width="1.8" stroke-linecap="butt"/>
<line x1="797.95" y1="124.20" x2="803.95" y2="124.20" stroke="#b000e2" stroke-width="1.8" stroke-linecap="butt"/>
<line x1="834.86" y1="107.32" x2="834.86" y2="112.14" stroke="#b000e2" stroke-width="1.5" stroke-linecap="butt"/>
<line x1="831.86" y1="107.32" x2="837.86" y2="107.32" stroke="#b000e2" stroke-width="1.8" stroke-linecap="butt"/>
<line x1="831.86" y1="112.14" x2="837.86" y2="112.14" stroke="#b000e2" stroke-width="1.8" stroke-linecap="butt"/>
<line x1="868.77" y1="107.32" x2="868.77" y2="112.14" stroke="#b000e2" stroke-width="1.5" stroke-linecap="butt"/>
<line x1="865.77" y1="107.32" x2="871.77" y2="107.32" stroke="#b000e2" stroke-width="1.8" stroke-linecap="butt"/>
<line x1="865.77" y1="112.14" x2="871.77" y2="112.14" stroke="#b000e2" stroke-width="1.8" stroke-linecap="butt"/>
<line x1="902.68" y1="104.11" x2="902.68" y2="108.93" stroke="#b000e2" stroke-width="1.5" stroke-linecap="butt"/>
<line x1="899.68" y1="104.11" x2="905.68" y2="104.11" stroke="#b000e2" stroke-width="1.8" stroke-linecap="butt"/>
<line x1="899.68" y1="108.93" x2="905.68" y2="108.93" stroke="#b000e2" stroke-width="1.8" stroke-linecap="butt"/>
<line x1="936.59" y1="102.50" x2="936.59" y2="107.32" stroke="#b000e2" stroke-width="1.5" stroke-linecap="butt"/>
<line x1="933.59" y1="102.50" x2="939.59" y2="102.50" stroke="#b000e2" stroke-width="1.8" stroke-linecap="butt"/>
<line x1="933.59" y1="107.32" x2="939.59" y2="107.32" stroke="#b000e2" stroke-width="1.8" stroke-linecap="butt"/>
<line x1="970.50" y1="100.89" x2="970.50" y2="105.71" stroke="#b000e2" stroke-width="1.5" stroke-linecap="butt"/>
<line x1="967.50" y1="100.89" x2="973.50" y2="100.89" stroke="#b000e2" stroke-width="1.8" stroke-linecap="butt"/>
<line x1="967.50" y1="105.71" x2="973.50" y2="105.71" stroke="#b000e2" stroke-width="1.8" stroke-linecap="butt"/>
<polyline points="631.40,106.52 665.31,107.72 699.22,106.52 733.13,106.52 767.04,114.55 800.95,106.92 834.86,116.16 868.77,109.73 902.68,114.15 936.59,108.12 970.50,111.34" fill="none" stroke="#1ebe1e" stroke-width="1.9" stroke-linejoin="miter"/>
<line x1="631.40" y1="104.11" x2="631.40" y2="108.93" stroke="#1ebe1e" stroke-width="1.5" stroke-linecap="butt"/>
<line x1="628.40" y1="104.11" x2="634.40" y2="104.11" stroke="#1ebe1e" stroke-width="1.8" stroke-linecap="butt"/>
<line x1="628.40" y1="108.93" x2="634.40" y2="108.93" stroke="#1ebe1e" stroke-width="1.8" stroke-linecap="butt"/>
<line x1="665.31" y1="105.31" x2="665.31" y2="110.13" stroke="#1ebe1e" stroke-width="1.5" stroke-linecap="butt"/>
<line x1="662.31" y1="105.31" x2="668.31" y2="105.31" stroke="#1ebe1e" stroke-width="1.8" stroke-linecap="butt"/>
<line x1="662.31" y1="110.13" x2="668.31" y2="110.13" stroke="#1ebe1e" stroke-width="1.8" stroke-linecap="butt"/>
<line x1="699.22" y1="104.11" x2="699.22" y2="108.93" stroke="#1ebe1e" stroke-width="1.5" stroke-linecap="butt"/>
<line x1="696.22" y1="104.11" x2="702.22" y2="104.11" stroke="#1ebe1e" stroke-width="1.8" stroke-linecap="butt"/>
<line x1="696.22" y1="108.93" x2="702.22" y2="108.93" stroke="#1ebe1e" stroke-width="1.8" stroke-linecap="butt"/>
<line x1="733.13" y1="104.11" x2="733.13" y2="108.93" stroke="#1ebe1e" stroke-width="1.5" stroke-linecap="butt"/>
<line x1="730.13" y1="104.11" x2="736.13" y2="104.11" stroke="#1ebe1e" stroke-width="1.8" stroke-linecap="butt"/>
<line x1="730.13" y1="108.93" x2="736.13" y2="108.93" stroke="#1ebe1e" stroke-width="1.8" stroke-linecap="butt"/>
<line x1="767.04" y1="112.14" x2="767.04" y2="116.96" stroke="#1ebe1e" stroke-width="1.5" stroke-linecap="butt"/>
<line x1="764.04" y1="112.14" x2="770.04" y2="112.14" stroke="#1ebe1e" stroke-width="1.8" stroke-linecap="butt"/>
<line x1="764.04" y1="116.96" x2="770.04" y2="116.96" stroke="#1ebe1e" stroke-width="1.8" stroke-linecap="butt"/>
<line x1="800.95" y1="104.51" x2="800.95" y2="109.33" stroke="#1ebe1e" stroke-width="1.5" stroke-linecap="butt"/>
<line x1="797.95" y1="104.51" x2="803.95" y2="104.51" stroke="#1ebe1e" stroke-width="1.8" stroke-linecap="butt"/>
<line x1="797.95" y1="109.33" x2="803.95" y2="109.33" stroke="#1ebe1e" stroke-width="1.8" stroke-linecap="butt"/>
<line x1="834.86" y1="112.14" x2="834.86" y2="120.18" stroke="#1ebe1e" stroke-width="1.5" stroke-linecap="butt"/>
<line x1="831.86" y1="112.14" x2="837.86" y2="112.14" stroke="#1ebe1e" stroke-width="1.8" stroke-linecap="butt"/>
<line x1="831.86" y1="120.18" x2="837.86" y2="120.18" stroke="#1ebe1e" stroke-width="1.8" stroke-linecap="butt"/>
<line x1="868.77" y1="107.32" x2="868.77" y2="112.14" stroke="#1ebe1e" stroke-width="1.5" stroke-linecap="butt"/>
<line x1="865.77" y1="107.32" x2="871.77" y2="107.32" stroke="#1ebe1e" stroke-width="1.8" stroke-linecap="butt"/>
<line x1="865.77" y1="112.14" x2="871.77" y2="112.14" stroke="#1ebe1e" stroke-width="1.8" stroke-linecap="butt"/>
<line x1="902.68" y1="111.74" x2="902.68" y2="116.56" stroke="#1ebe1e" stroke-width="1.5" stroke-linecap="butt"/>
<line x1="899.68" y1="111.74" x2="905.68" y2="111.74" stroke="#1ebe1e" stroke-width="1.8" stroke-linecap="butt"/>
<line x1="899.68" y1="116.56" x2="905.68" y2="116.56" stroke="#1ebe1e" stroke-width="1.8" stroke-linecap="butt"/>
<line x1="936.59" y1="105.71" x2="936.59" y2="110.53" stroke="#1ebe1e" stroke-width="1.5" stroke-linecap="butt"/>
<line x1="933.59" y1="105.71" x2="939.59" y2="105.71" stroke="#1ebe1e" stroke-width="1.8" stroke-linecap="butt"/>
<line x1="933.59" y1="110.53" x2="939.59" y2="110.53" stroke="#1ebe1e" stroke-width="1.8" stroke-linecap="butt"/>
<line x1="970.50" y1="108.93" x2="970.50" y2="113.75" stroke="#1ebe1e" stroke-width="1.5" stroke-linecap="butt"/>
<line x1="967.50" y1="108.93" x2="973.50" y2="108.93" stroke="#1ebe1e" stroke-width="1.8" stroke-linecap="butt"/>
<line x1="967.50" y1="113.75" x2="973.50" y2="113.75" stroke="#1ebe1e" stroke-width="1.8" stroke-linecap="butt"/>
<polyline points="631.40,104.11 665.31,104.11 699.22,103.70 733.13,111.34 767.04,111.34 800.95,120.18 834.86,111.74 868.77,112.94 902.68,109.73 936.59,111.34 970.50,108.12" fill="none" stroke="#ff1414" stroke-width="1.9" stroke-linejoin="miter"/>
<line x1="631.40" y1="101.69" x2="631.40" y2="106.52" stroke="#ff1414" stroke-width="1.5" stroke-linecap="butt"/>
<line x1="628.40" y1="101.69" x2="634.40" y2="101.69" stroke="#ff1414" stroke-width="1.8" stroke-linecap="butt"/>
<line x1="628.40" y1="106.52" x2="634.40" y2="106.52" stroke="#ff1414" stroke-width="1.8" stroke-linecap="butt"/>
<line x1="665.31" y1="101.69" x2="665.31" y2="106.52" stroke="#ff1414" stroke-width="1.5" stroke-linecap="butt"/>
<line x1="662.31" y1="101.69" x2="668.31" y2="101.69" stroke="#ff1414" stroke-width="1.8" stroke-linecap="butt"/>
<line x1="662.31" y1="106.52" x2="668.31" y2="106.52" stroke="#ff1414" stroke-width="1.8" stroke-linecap="butt"/>
<line x1="699.22" y1="101.29" x2="699.22" y2="106.11" stroke="#ff1414" stroke-width="1.5" stroke-linecap="butt"/>
<line x1="696.22" y1="101.29" x2="702.22" y2="101.29" stroke="#ff1414" stroke-width="1.8" stroke-linecap="butt"/>
<line x1="696.22" y1="106.11" x2="702.22" y2="106.11" stroke="#ff1414" stroke-width="1.8" stroke-linecap="butt"/>
<line x1="733.13" y1="107.32" x2="733.13" y2="115.36" stroke="#ff1414" stroke-width="1.5" stroke-linecap="butt"/>
<line x1="730.13" y1="107.32" x2="736.13" y2="107.32" stroke="#ff1414" stroke-width="1.8" stroke-linecap="butt"/>
<line x1="730.13" y1="115.36" x2="736.13" y2="115.36" stroke="#ff1414" stroke-width="1.8" stroke-linecap="butt"/>
<line x1="767.04" y1="108.93" x2="767.04" y2="113.75" stroke="#ff1414" stroke-width="1.5" stroke-linecap="butt"/>
<line x1="764.04" y1="108.93" x2="770.04" y2="108.93" stroke="#ff1414" stroke-width="1.8" stroke-linecap="butt"/>
<line x1="764.04" y1="113.75" x2="770.04" y2="113.75" stroke="#ff1414" stroke-width="1.8" stroke-linecap="butt"/>
<line x1="800.95" y1="116.96" x2="800.95" y2="123.39" stroke="#ff1414" stroke-width="1.5" stroke-linecap="butt"/>
<line x1="797.95" y1="116.96" x2="803.95" y2="116.96" stroke="#ff1414" stroke-width="1.8" stroke-linecap="butt"/>
<line x1="797.95" y1="123.39" x2="803.95" y2="123.39" stroke="#ff1414" stroke-width="1.8" stroke-linecap="butt"/>
<line x1="834.86" y1="109.33" x2="834.86" y2="114.15" stroke="#ff1414" stroke-width="1.5" stroke-linecap="butt"/>
<line x1="831.86" y1="109.33" x2="837.86" y2="109.33" stroke="#ff1414" stroke-width="1.8" stroke-linecap="butt"/>
<line x1="831.86" y1="114.15" x2="837.86" y2="114.15" stroke="#ff1414" stroke-width="1.8" stroke-linecap="butt"/>
<line x1="868.77" y1="110.53" x2="868.77" y2="115.36" stroke="#ff1414" stroke-width="1.5" stroke-linecap="butt"/>
<line x1="865.77" y1="110.53" x2="871.77" y2="110.53" stroke="#ff1414" stroke-width="1.8" stroke-linecap="butt"/>
<line x1="865.77" y1="115.36" x2="871.77" y2="115.36" stroke="#ff1414" stroke-width="1.8" stroke-linecap="butt"/>
<line x1="902.68" y1="107.32" x2="902.68" y2="112.14" stroke="#ff1414" stroke-width="1.5" stroke-linecap="butt"/>
<line x1="899.68" y1="107.32" x2="905.68" y2="107.32" stroke="#ff1414" stroke-width="1.8" stroke-linecap="butt"/>
<line x1="899.68" y1="112.14" x2="905.68" y2="112.14" stroke="#ff1414" stroke-width="1.8" stroke-linecap="butt"/>
<line x1="936.59" y1="108.93" x2="936.59" y2="113.75" stroke="#ff1414" stroke-width="1.5" stroke-linecap="butt"/>
<line x1="933.59" y1="108.93" x2="939.59" y2="108.93" stroke="#ff1414" stroke-width="1.8" stroke-linecap="butt"/>
<line x1="933.59" y1="113.75" x2="939.59" y2="113.75" stroke="#ff1414" stroke-width="1.8" stroke-linecap="butt"/>
<line x1="970.50" y1="105.71" x2="970.50" y2="110.53" stroke="#ff1414" stroke-width="1.5" stroke-linecap="butt"/>
<line x1="967.50" y1="105.71" x2="973.50" y2="105.71" stroke="#ff1414" stroke-width="1.8" stroke-linecap="butt"/>
<line x1="967.50" y1="110.53" x2="973.50" y2="110.53" stroke="#ff1414" stroke-width="1.8" stroke-linecap="butt"/>
<polyline points="631.40,102.10 665.31,102.10 699.22,107.72 733.13,105.31 767.04,109.73 800.95,112.14 834.86,105.31 868.77,106.52 902.68,106.52 936.59,104.91 970.50,106.52" fill="none" stroke="#1414ff" stroke-width="1.9" stroke-linejoin="miter"/>
<line x1="631.40" y1="99.69" x2="631.40" y2="104.51" stroke="#1414ff" stroke-width="1.5" stroke-linecap="butt"/>
<line x1="628.40" y1="99.69" x2="634.40" y2="99.69" stroke="#1414ff" stroke-width="1.8" stroke-linecap="butt"/>
<line x1="628.40" y1="104.51" x2="634.40" y2="104.51" stroke="#1414ff" stroke-width="1.8" stroke-linecap="butt"/>
<line x1="665.31" y1="99.69" x2="665.31" y2="104.51" stroke="#1414ff" stroke-width="1.5" stroke-linecap="butt"/>
<line x1="662.31" y1="99.69" x2="668.31" y2="99.69" stroke="#1414ff" stroke-width="1.8" stroke-linecap="butt"/>
<line x1="662.31" y1="104.51" x2="668.31" y2="104.51" stroke="#1414ff" stroke-width="1.8" stroke-linecap="butt"/>
<line x1="699.22" y1="105.31" x2="699.22" y2="110.13" stroke="#1414ff" stroke-width="1.5" stroke-linecap="butt"/>
<line x1="696.22" y1="105.31" x2="702.22" y2="105.31" stroke="#1414ff" stroke-width="1.8" stroke-linecap="butt"/>
<line x1="696.22" y1="110.13" x2="702.22" y2="110.13" stroke="#1414ff" stroke-width="1.8" stroke-linecap="butt"/>
<line x1="733.13" y1="102.90" x2="733.13" y2="107.72" stroke="#1414ff" stroke-width="1.5" stroke-linecap="butt"/>
<line x1="730.13" y1="102.90" x2="736.13" y2="102.90" stroke="#1414ff" stroke-width="1.8" stroke-linecap="butt"/>
<line x1="730.13" y1="107.72" x2="736.13" y2="107.72" stroke="#1414ff" stroke-width="1.8" stroke-linecap="butt"/>
<line x1="767.04" y1="107.32" x2="767.04" y2="112.14" stroke="#1414ff" stroke-width="1.5" stroke-linecap="butt"/>
<line x1="764.04" y1="107.32" x2="770.04" y2="107.32" stroke="#1414ff" stroke-width="1.8" stroke-linecap="butt"/>
<line x1="764.04" y1="112.14" x2="770.04" y2="112.14" stroke="#1414ff" stroke-width="1.8" stroke-linecap="butt"/>
<line x1="800.95" y1="109.73" x2="800.95" y2="114.55" stroke="#1414ff" stroke-width="1.5" stroke-linecap="butt"/>
<line x1="797.95" y1="109.73" x2="803.95" y2="109.73" stroke="#1414ff" stroke-width="1.8" stroke-linecap="butt"/>
<line x1="797.95" y1="114.55" x2="803.95" y2="114.55" stroke="#1414ff" stroke-width="1.8" stroke-linecap="butt"/>
<line x1="834.86" y1="102.90" x2="834.86" y2="107.72" stroke="#1414ff" stroke-width="1.5" stroke-linecap="butt"/>
<line x1="831.86" y1="102.90" x2="837.86" y2="102.90" stroke="#1414ff" stroke-width="1.8" stroke-linecap="butt"/>
<line x1="831.86" y1="107.72" x2="837.86" y2="107.72" stroke="#1414ff" stroke-width="1.8" stroke-linecap="butt"/>
<line x1="868.77" y1="104.11" x2="868.77" y2="108.93" stroke="#1414ff" stroke-width="1.5" stroke-linecap="butt"/>
<line x1="865.77" y1="104.11" x2="871.77" y2="104.11" stroke="#1414ff" stroke-width="1.8" stroke-linecap="butt"/>
<line x1="865.77" y1="108.93" x2="871.77" y2="108.93" stroke="#1414ff" stroke-width="1.8" stroke-linecap="butt"/>
<line x1="902.68" y1="104.11" x2="902.68" y2="108.93" stroke="#1414ff" stroke-width="1.5" stroke-linecap="butt"/>
<line x1="899.68" y1="104.11" x2="905.68" y2="104.11" stroke="#1414ff" stroke-width="1.8" stroke-linecap="butt"/>
<line x1="899.68" y1="108.93" x2="905.68" y2="108.93" stroke="#1414ff" stroke-width="1.8" stroke-linecap="butt"/>
<line x1="936.59" y1="102.50" x2="936.59" y2="107.32" stroke="#1414ff" stroke-width="1.5" stroke-linecap="butt"/>
<line x1="933.59" y1="102.50" x2="939.59" y2="102.50" stroke="#1414ff" stroke-width="1.8" stroke-linecap="butt"/>
<line x1="933.59" y1="107.32" x2="939.59" y2="107.32" stroke="#1414ff" stroke-width="1.8" stroke-linecap="butt"/>
<line x1="970.50" y1="104.11" x2="970.50" y2="108.93" stroke="#1414ff" stroke-width="1.5" stroke-linecap="butt"/>
<line x1="967.50" y1="104.11" x2="973.50" y2="104.11" stroke="#1414ff" stroke-width="1.8" stroke-linecap="butt"/>
<line x1="967.50" y1="108.93" x2="973.50" y2="108.93" stroke="#1414ff" stroke-width="1.8" stroke-linecap="butt"/>
<line x1="796.70" y1="133.30" x2="816.70" y2="133.30" stroke="#1414ff" stroke-width="1.9" stroke-linecap="butt"/>
<text x="828.70" y="139.20" font-family='"Liberation Sans", sans-serif' font-size="17.8" font-weight="bold" text-anchor="start" fill="#000" >Control</text>
<line x1="796.90" y1="148.40" x2="817.00" y2="148.40" stroke="#ff1414" stroke-width="1.9" stroke-linecap="butt"/>
<text x="828.70" y="154.30" font-family='"Liberation Sans", sans-serif' font-size="17.8" font-weight="bold" text-anchor="start" fill="#000" >Sham</text>
<line x1="797.40" y1="164.30" x2="817.30" y2="164.30" stroke="#1ebe1e" stroke-width="1.9" stroke-linecap="butt"/>
<text x="828.90" y="170.10" font-family='"Liberation Sans", sans-serif' font-size="17.8" font-weight="bold" text-anchor="start" fill="#000" >IoN-CCI+NS</text>
<line x1="797.70" y1="181.40" x2="817.80" y2="181.40" stroke="#b000e2" stroke-width="1.9" stroke-linecap="butt"/>
<text x="829.60" y="187.40" font-family='"Liberation Sans", sans-serif' font-size="17.8" font-weight="bold" text-anchor="start" fill="#000" >IoN-CCI+Morphine(4.0 mg/kg)</text>
<line x1="798.70" y1="198.50" x2="818.70" y2="198.50" stroke="#ff8414" stroke-width="1.9" stroke-linecap="butt"/>
<text x="830.30" y="204.50" font-family='"Liberation Sans", sans-serif' font-size="17.8" font-weight="bold" text-anchor="start" fill="#000" >IoN-CCI+N58A(1.0 mg/kg)</text>
<line x1="798.20" y1="216.30" x2="818.00" y2="216.30" stroke="#000000" stroke-width="1.9" stroke-linecap="butt"/>
<text x="829.80" y="222.30" font-family='"Liberation Sans", sans-serif' font-size="17.8" font-weight="bold" text-anchor="start" fill="#000" >IoN-CCI+N58A(2.0 mg/kg)</text>
<line x1="800.00" y1="235.10" x2="820.00" y2="235.10" stroke="#9f6c26" stroke-width="1.9" stroke-linecap="butt"/>
<text x="831.30" y="240.80" font-family='"Liberation Sans", sans-serif' font-size="17.8" font-weight="bold" text-anchor="start" fill="#000" >IoN-CCI+N58A(4.0 mg/kg)</text>
<rect x="68.00" y="452.50" width="4.00" height="248.40" fill="#000" />
<rect x="68.00" y="696.90" width="392.30" height="4.00" fill="#000" />
<rect x="65.30" y="697.00" width="3.20" height="3.80" fill="#000" />
<text x="61.50" y="705.60" font-family='"Liberation Sans", sans-serif' font-size="18.5" font-weight="bold" text-anchor="end" fill="#000" >0</text>
<rect x="65.30" y="635.88" width="3.20" height="3.80" fill="#000" />
<text x="61.50" y="644.48" font-family='"Liberation Sans", sans-serif' font-size="18.5" font-weight="bold" text-anchor="end" fill="#000" >10</text>
<rect x="65.30" y="574.75" width="3.20" height="3.80" fill="#000" />
<text x="61.50" y="583.35" font-family='"Liberation Sans", sans-serif' font-size="18.5" font-weight="bold" text-anchor="end" fill="#000" >20</text>
<rect x="65.30" y="513.62" width="3.20" height="3.80" fill="#000" />
<text x="61.50" y="522.23" font-family='"Liberation Sans", sans-serif' font-size="18.5" font-weight="bold" text-anchor="end" fill="#000" >30</text>
<rect x="65.30" y="452.50" width="3.20" height="3.80" fill="#000" />
<text x="61.50" y="461.10" font-family='"Liberation Sans", sans-serif' font-size="18.5" font-weight="bold" text-anchor="end" fill="#000" >40</text>
<rect x="86.20" y="698.90" width="3.80" height="6.10" fill="#000" />
<rect x="121.42" y="698.90" width="3.80" height="6.10" fill="#000" />
<rect x="156.64" y="698.90" width="3.80" height="6.10" fill="#000" />
<rect x="191.86" y="698.90" width="3.80" height="6.10" fill="#000" />
<rect x="227.08" y="698.90" width="3.80" height="6.10" fill="#000" />
<rect x="262.30" y="698.90" width="3.80" height="6.10" fill="#000" />
<rect x="297.52" y="698.90" width="3.80" height="6.10" fill="#000" />
<rect x="332.74" y="698.90" width="3.80" height="6.10" fill="#000" />
<rect x="367.96" y="698.90" width="3.80" height="6.10" fill="#000" />
<rect x="403.18" y="698.90" width="3.80" height="6.10" fill="#000" />
<rect x="438.40" y="698.90" width="3.80" height="6.10" fill="#000" />
<text x="88.10" y="724.80" font-family='"Liberation Sans", sans-serif' font-size="18.5" font-weight="bold" text-anchor="middle" fill="#000" >-1</text>
<text x="123.32" y="724.80" font-family='"Liberation Sans", sans-serif' font-size="18.5" font-weight="bold" text-anchor="middle" fill="#000" >3</text>
<text x="158.54" y="724.80" font-family='"Liberation Sans", sans-serif' font-size="18.5" font-weight="bold" text-anchor="middle" fill="#000" >5</text>
<text x="193.76" y="724.80" font-family='"Liberation Sans", sans-serif' font-size="18.5" font-weight="bold" text-anchor="middle" fill="#000" >7</text>
<text x="228.98" y="724.80" font-family='"Liberation Sans", sans-serif' font-size="18.5" font-weight="bold" text-anchor="middle" fill="#000" >9</text>
<text x="264.20" y="724.80" font-family='"Liberation Sans", sans-serif' font-size="18.5" font-weight="bold" text-anchor="middle" fill="#000" >11</text>
<text x="299.42" y="724.80" font-family='"Liberation Sans", sans-serif' font-size="18.5" font-weight="bold" text-anchor="middle" fill="#000" >13</text>
<text x="334.64" y="724.80" font-family='"Liberation Sans", sans-serif' font-size="18.5" font-weight="bold" text-anchor="middle" fill="#000" >14</text>
<text x="369.86" y="724.80" font-family='"Liberation Sans", sans-serif' font-size="18.5" font-weight="bold" text-anchor="middle" fill="#000" >0.5 h</text>
<text x="405.08" y="724.80" font-family='"Liberation Sans", sans-serif' font-size="18.5" font-weight="bold" text-anchor="middle" fill="#000" >2 h</text>
<text x="440.30" y="724.80" font-family='"Liberation Sans", sans-serif' font-size="18.5" font-weight="bold" text-anchor="middle" fill="#000" >4 h</text>
<line x1="355.50" y1="730.10" x2="446.10" y2="730.10" stroke="#000" stroke-width="1.6" stroke-linecap="butt"/>
<text x="398.30" y="748.70" font-family='"Liberation Sans", sans-serif' font-size="19.0" font-weight="bold" text-anchor="middle" fill="#000" >14 d</text>
<text x="123.30" y="754.50" font-family='"Liberation Sans", sans-serif' font-size="21.4" font-weight="bold" text-anchor="start" fill="#000" >Date after surgery(d)</text>
<text x="0.00" y="0.00" font-family='"Liberation Sans", sans-serif' font-size="20.9" font-weight="bold" text-anchor="start" fill="#000" transform="translate(28.60,748.80) rotate(-90)">Mechanical allodynia thresholds(g)</text>
<polyline points="88.10,527.75 123.32,528.36 158.54,536.92 193.76,599.88 228.98,613.94 264.20,621.88 299.42,628.61 334.64,623.72 369.86,607.21 405.08,527.75 440.30,506.36" fill="none" stroke="#9f6c26" stroke-width="2.0" stroke-linejoin="miter"/>
<line x1="88.10" y1="524.08" x2="88.10" y2="531.42" stroke="#9f6c26" stroke-width="1.7" stroke-linecap="butt"/>
<line x1="84.60" y1="524.08" x2="91.60" y2="524.08" stroke="#9f6c26" stroke-width="2.0" stroke-linecap="butt"/>
<line x1="84.60" y1="531.42" x2="91.60" y2="531.42" stroke="#9f6c26" stroke-width="2.0" stroke-linecap="butt"/>
<line x1="123.32" y1="524.69" x2="123.32" y2="532.03" stroke="#9f6c26" stroke-width="1.7" stroke-linecap="butt"/>
<line x1="119.82" y1="524.69" x2="126.82" y2="524.69" stroke="#9f6c26" stroke-width="2.0" stroke-linecap="butt"/>
<line x1="119.82" y1="532.03" x2="126.82" y2="532.03" stroke="#9f6c26" stroke-width="2.0" stroke-linecap="butt"/>
<line x1="158.54" y1="533.25" x2="158.54" y2="540.59" stroke="#9f6c26" stroke-width="1.7" stroke-linecap="butt"/>
<line x1="155.04" y1="533.25" x2="162.04" y2="533.25" stroke="#9f6c26" stroke-width="2.0" stroke-linecap="butt"/>
<line x1="155.04" y1="540.59" x2="162.04" y2="540.59" stroke="#9f6c26" stroke-width="2.0" stroke-linecap="butt"/>
<line x1="193.76" y1="596.21" x2="193.76" y2="603.54" stroke="#9f6c26" stroke-width="1.7" stroke-linecap="butt"/>
<line x1="190.26" y1="596.21" x2="197.26" y2="596.21" stroke="#9f6c26" stroke-width="2.0" stroke-linecap="butt"/>
<line x1="190.26" y1="603.54" x2="197.26" y2="603.54" stroke="#9f6c26" stroke-width="2.0" stroke-linecap="butt"/>
<line x1="228.98" y1="610.27" x2="228.98" y2="617.60" stroke="#9f6c26" stroke-width="1.7" stroke-linecap="butt"/>
<line x1="225.48" y1="610.27" x2="232.48" y2="610.27" stroke="#9f6c26" stroke-width="2.0" stroke-linecap="butt"/>
<line x1="225.48" y1="617.60" x2="232.48" y2="617.60" stroke="#9f6c26" stroke-width="2.0" stroke-linecap="butt"/>
<line x1="264.20" y1="618.22" x2="264.20" y2="625.55" stroke="#9f6c26" stroke-width="1.7" stroke-linecap="butt"/>
<line x1="260.70" y1="618.22" x2="267.70" y2="618.22" stroke="#9f6c26" stroke-width="2.0" stroke-linecap="butt"/>
<line x1="260.70" y1="625.55" x2="267.70" y2="625.55" stroke="#9f6c26" stroke-width="2.0" stroke-linecap="butt"/>
<line x1="299.42" y1="624.94" x2="299.42" y2="632.27" stroke="#9f6c26" stroke-width="1.7" stroke-linecap="butt"/>
<line x1="295.92" y1="624.94" x2="302.92" y2="624.94" stroke="#9f6c26" stroke-width="2.0" stroke-linecap="butt"/>
<line x1="295.92" y1="632.27" x2="302.92" y2="632.27" stroke="#9f6c26" stroke-width="2.0" stroke-linecap="butt"/>
<line x1="334.64" y1="620.05" x2="334.64" y2="627.38" stroke="#9f6c26" stroke-width="1.7" stroke-linecap="butt"/>
<line x1="331.14" y1="620.05" x2="338.14" y2="620.05" stroke="#9f6c26" stroke-width="2.0" stroke-linecap="butt"/>
<line x1="331.14" y1="627.38" x2="338.14" y2="627.38" stroke="#9f6c26" stroke-width="2.0" stroke-linecap="butt"/>
<line x1="369.86" y1="603.54" x2="369.86" y2="610.88" stroke="#9f6c26" stroke-width="1.7" stroke-linecap="butt"/>
<line x1="366.36" y1="603.54" x2="373.36" y2="603.54" stroke="#9f6c26" stroke-width="2.0" stroke-linecap="butt"/>
<line x1="366.36" y1="610.88" x2="373.36" y2="610.88" stroke="#9f6c26" stroke-width="2.0" stroke-linecap="butt"/>
<line x1="405.08" y1="524.08" x2="405.08" y2="531.42" stroke="#9f6c26" stroke-width="1.7" stroke-linecap="butt"/>
<line x1="401.58" y1="524.08" x2="408.58" y2="524.08" stroke="#9f6c26" stroke-width="2.0" stroke-linecap="butt"/>
<line x1="401.58" y1="531.42" x2="408.58" y2="531.42" stroke="#9f6c26" stroke-width="2.0" stroke-linecap="butt"/>
<line x1="440.30" y1="502.69" x2="440.30" y2="510.02" stroke="#9f6c26" stroke-width="1.7" stroke-linecap="butt"/>
<line x1="436.80" y1="502.69" x2="443.80" y2="502.69" stroke="#9f6c26" stroke-width="2.0" stroke-linecap="butt"/>
<line x1="436.80" y1="510.02" x2="443.80" y2="510.02" stroke="#9f6c26" stroke-width="2.0" stroke-linecap="butt"/>
<polyline points="88.10,527.75 123.32,528.36 158.54,532.64 193.76,602.93 228.98,623.72 264.20,621.58 299.42,628.00 334.64,628.61 369.86,618.83 405.08,573.59 440.30,573.59" fill="none" stroke="#000000" stroke-width="2.0" stroke-linejoin="miter"/>
<line x1="88.10" y1="524.69" x2="88.10" y2="530.81" stroke="#000000" stroke-width="1.7" stroke-linecap="butt"/>
<line x1="84.60" y1="524.69" x2="91.60" y2="524.69" stroke="#000000" stroke-width="2.0" stroke-linecap="butt"/>
<line x1="84.60" y1="530.81" x2="91.60" y2="530.81" stroke="#000000" stroke-width="2.0" stroke-linecap="butt"/>
<line x1="123.32" y1="525.30" x2="123.32" y2="531.42" stroke="#000000" stroke-width="1.7" stroke-linecap="butt"/>
<line x1="119.82" y1="525.30" x2="126.82" y2="525.30" stroke="#000000" stroke-width="2.0" stroke-linecap="butt"/>
<line x1="119.82" y1="531.42" x2="126.82" y2="531.42" stroke="#000000" stroke-width="2.0" stroke-linecap="butt"/>
<line x1="158.54" y1="529.58" x2="158.54" y2="535.70" stroke="#000000" stroke-width="1.7" stroke-linecap="butt"/>
<line x1="155.04" y1="529.58" x2="162.04" y2="529.58" stroke="#000000" stroke-width="2.0" stroke-linecap="butt"/>
<line x1="155.04" y1="535.70" x2="162.04" y2="535.70" stroke="#000000" stroke-width="2.0" stroke-linecap="butt"/>
<line x1="193.76" y1="599.88" x2="193.76" y2="605.99" stroke="#000000" stroke-width="1.7" stroke-linecap="butt"/>
<line x1="190.26" y1="599.88" x2="197.26" y2="599.88" stroke="#000000" stroke-width="2.0" stroke-linecap="butt"/>
<line x1="190.26" y1="605.99" x2="197.26" y2="605.99" stroke="#000000" stroke-width="2.0" stroke-linecap="butt"/>
<line x1="228.98" y1="619.44" x2="228.98" y2="628.00" stroke="#000000" stroke-width="1.7" stroke-linecap="butt"/>
<line x1="225.48" y1="619.44" x2="232.48" y2="619.44" stroke="#000000" stroke-width="2.0" stroke-linecap="butt"/>
<line x1="225.48" y1="628.00" x2="232.48" y2="628.00" stroke="#000000" stroke-width="2.0" stroke-linecap="butt"/>
<line x1="264.20" y1="618.52" x2="264.20" y2="624.63" stroke="#000000" stroke-width="1.7" stroke-linecap="butt"/>
<line x1="260.70" y1="618.52" x2="267.70" y2="618.52" stroke="#000000" stroke-width="2.0" stroke-linecap="butt"/>
<line x1="260.70" y1="624.63" x2="267.70" y2="624.63" stroke="#000000" stroke-width="2.0" stroke-linecap="butt"/>
<line x1="299.42" y1="624.94" x2="299.42" y2="631.05" stroke="#000000" stroke-width="1.7" stroke-linecap="butt"/>
<line x1="295.92" y1="624.94" x2="302.92" y2="624.94" stroke="#000000" stroke-width="2.0" stroke-linecap="butt"/>
<line x1="295.92" y1="631.05" x2="302.92" y2="631.05" stroke="#000000" stroke-width="2.0" stroke-linecap="butt"/>
<line x1="334.64" y1="624.33" x2="334.64" y2="632.88" stroke="#000000" stroke-width="1.7" stroke-linecap="butt"/>
<line x1="331.14" y1="624.33" x2="338.14" y2="624.33" stroke="#000000" stroke-width="2.0" stroke-linecap="butt"/>
<line x1="331.14" y1="632.88" x2="338.14" y2="632.88" stroke="#000000" stroke-width="2.0" stroke-linecap="butt"/>
<line x1="369.86" y1="615.77" x2="369.86" y2="621.88" stroke="#000000" stroke-width="1.7" stroke-linecap="butt"/>
<line x1="366.36" y1="615.77" x2="373.36" y2="615.77" stroke="#000000" stroke-width="2.0" stroke-linecap="butt"/>
<line x1="366.36" y1="621.88" x2="373.36" y2="621.88" stroke="#000000" stroke-width="2.0" stroke-linecap="butt"/>
<line x1="405.08" y1="570.54" x2="405.08" y2="576.65" stroke="#000000" stroke-width="1.7" stroke-linecap="butt"/>
<line x1="401.58" y1="570.54" x2="408.58" y2="570.54" stroke="#000000" stroke-width="2.0" stroke-linecap="butt"/>
<line x1="401.58" y1="576.65" x2="408.58" y2="576.65" stroke="#000000" stroke-width="2.0" stroke-linecap="butt"/>
<line x1="440.30" y1="571.76" x2="440.30" y2="575.43" stroke="#000000" stroke-width="1.7" stroke-linecap="butt"/>
<line x1="436.80" y1="571.76" x2="443.80" y2="571.76" stroke="#000000" stroke-width="2.0" stroke-linecap="butt"/>
<line x1="436.80" y1="575.43" x2="443.80" y2="575.43" stroke="#000000" stroke-width="2.0" stroke-linecap="butt"/>
<polyline points="88.10,532.64 123.32,539.36 158.54,536.92 193.76,601.71 228.98,612.41 264.20,625.55 299.42,631.05 334.64,623.72 369.86,629.83 405.08,613.94 440.30,608.43" fill="none" stroke="#ff8414" stroke-width="2.0" stroke-linejoin="miter"/>
<line x1="88.10" y1="529.58" x2="88.10" y2="535.70" stroke="#ff8414" stroke-width="1.7" stroke-linecap="butt"/>
<line x1="84.60" y1="529.58" x2="91.60" y2="529.58" stroke="#ff8414" stroke-width="2.0" stroke-linecap="butt"/>
<line x1="84.60" y1="535.70" x2="91.60" y2="535.70" stroke="#ff8414" stroke-width="2.0" stroke-linecap="butt"/>
<line x1="123.32" y1="535.70" x2="123.32" y2="543.03" stroke="#ff8414" stroke-width="1.7" stroke-linecap="butt"/>
<line x1="119.82" y1="535.70" x2="126.82" y2="535.70" stroke="#ff8414" stroke-width="2.0" stroke-linecap="butt"/>
<line x1="119.82" y1="543.03" x2="126.82" y2="543.03" stroke="#ff8414" stroke-width="2.0" stroke-linecap="butt"/>
<line x1="158.54" y1="531.42" x2="158.54" y2="542.42" stroke="#ff8414" stroke-width="1.7" stroke-linecap="butt"/>
<line x1="155.04" y1="531.42" x2="162.04" y2="531.42" stroke="#ff8414" stroke-width="2.0" stroke-linecap="butt"/>
<line x1="155.04" y1="542.42" x2="162.04" y2="542.42" stroke="#ff8414" stroke-width="2.0" stroke-linecap="butt"/>
<line x1="193.76" y1="598.65" x2="193.76" y2="604.77" stroke="#ff8414" stroke-width="1.7" stroke-linecap="butt"/>
<line x1="190.26" y1="598.65" x2="197.26" y2="598.65" stroke="#ff8414" stroke-width="2.0" stroke-linecap="butt"/>
<line x1="190.26" y1="604.77" x2="197.26" y2="604.77" stroke="#ff8414" stroke-width="2.0" stroke-linecap="butt"/>
<line x1="228.98" y1="609.35" x2="228.98" y2="615.46" stroke="#ff8414" stroke-width="1.7" stroke-linecap="butt"/>
<line x1="225.48" y1="609.35" x2="232.48" y2="609.35" stroke="#ff8414" stroke-width="2.0" stroke-linecap="butt"/>
<line x1="225.48" y1="615.46" x2="232.48" y2="615.46" stroke="#ff8414" stroke-width="2.0" stroke-linecap="butt"/>
<line x1="264.20" y1="622.49" x2="264.20" y2="628.61" stroke="#ff8414" stroke-width="1.7" stroke-linecap="butt"/>
<line x1="260.70" y1="622.49" x2="267.70" y2="622.49" stroke="#ff8414" stroke-width="2.0" stroke-linecap="butt"/>
<line x1="260.70" y1="628.61" x2="267.70" y2="628.61" stroke="#ff8414" stroke-width="2.0" stroke-linecap="butt"/>
<line x1="299.42" y1="628.00" x2="299.42" y2="634.11" stroke="#ff8414" stroke-width="1.7" stroke-linecap="butt"/>
<line x1="295.92" y1="628.00" x2="302.92" y2="628.00" stroke="#ff8414" stroke-width="2.0" stroke-linecap="butt"/>
<line x1="295.92" y1="634.11" x2="302.92" y2="634.11" stroke="#ff8414" stroke-width="2.0" stroke-linecap="butt"/>
<line x1="334.64" y1="620.66" x2="334.64" y2="626.77" stroke="#ff8414" stroke-width="1.7" stroke-linecap="butt"/>
<line x1="331.14" y1="620.66" x2="338.14" y2="620.66" stroke="#ff8414" stroke-width="2.0" stroke-linecap="butt"/>
<line x1="331.14" y1="626.77" x2="338.14" y2="626.77" stroke="#ff8414" stroke-width="2.0" stroke-linecap="butt"/>
<line x1="369.86" y1="626.77" x2="369.86" y2="632.88" stroke="#ff8414" stroke-width="1.7" stroke-linecap="butt"/>
<line x1="366.36" y1="626.77" x2="373.36" y2="626.77" stroke="#ff8414" stroke-width="2.0" stroke-linecap="butt"/>
<line x1="366.36" y1="632.88" x2="373.36" y2="632.88" stroke="#ff8414" stroke-width="2.0" stroke-linecap="butt"/>
<line x1="405.08" y1="611.49" x2="405.08" y2="616.38" stroke="#ff8414" stroke-width="1.7" stroke-linecap="butt"/>
<line x1="401.58" y1="611.49" x2="408.58" y2="611.49" stroke="#ff8414" stroke-width="2.0" stroke-linecap="butt"/>
<line x1="401.58" y1="616.38" x2="408.58" y2="616.38" stroke="#ff8414" stroke-width="2.0" stroke-linecap="butt"/>
<line x1="440.30" y1="605.38" x2="440.30" y2="611.49" stroke="#ff8414" stroke-width="1.7" stroke-linecap="butt"/>
<line x1="436.80" y1="605.38" x2="443.80" y2="605.38" stroke="#ff8414" stroke-width="2.0" stroke-linecap="butt"/>
<line x1="436.80" y1="611.49" x2="443.80" y2="611.49" stroke="#ff8414" stroke-width="2.0" stroke-linecap="butt"/>
<polyline points="88.10,530.19 123.32,536.92 158.54,543.03 193.76,605.99 228.98,616.99 264.20,616.38 299.42,633.19 334.64,618.52 369.86,569.93 405.08,554.03 440.30,512.47" fill="none" stroke="#b000e2" stroke-width="2.0" stroke-linejoin="miter"/>
<line x1="88.10" y1="527.14" x2="88.10" y2="533.25" stroke="#b000e2" stroke-width="1.7" stroke-linecap="butt"/>
<line x1="84.60" y1="527.14" x2="91.60" y2="527.14" stroke="#b000e2" stroke-width="2.0" stroke-linecap="butt"/>
<line x1="84.60" y1="533.25" x2="91.60" y2="533.25" stroke="#b000e2" stroke-width="2.0" stroke-linecap="butt"/>
<line x1="123.32" y1="533.86" x2="123.32" y2="539.98" stroke="#b000e2" stroke-width="1.7" stroke-linecap="butt"/>
<line x1="119.82" y1="533.86" x2="126.82" y2="533.86" stroke="#b000e2" stroke-width="2.0" stroke-linecap="butt"/>
<line x1="119.82" y1="539.98" x2="126.82" y2="539.98" stroke="#b000e2" stroke-width="2.0" stroke-linecap="butt"/>
<line x1="158.54" y1="539.98" x2="158.54" y2="546.09" stroke="#b000e2" stroke-width="1.7" stroke-linecap="butt"/>
<line x1="155.04" y1="539.98" x2="162.04" y2="539.98" stroke="#b000e2" stroke-width="2.0" stroke-linecap="butt"/>
<line x1="155.04" y1="546.09" x2="162.04" y2="546.09" stroke="#b000e2" stroke-width="2.0" stroke-linecap="butt"/>
<line x1="193.76" y1="602.32" x2="193.76" y2="609.66" stroke="#b000e2" stroke-width="1.7" stroke-linecap="butt"/>
<line x1="190.26" y1="602.32" x2="197.26" y2="602.32" stroke="#b000e2" stroke-width="2.0" stroke-linecap="butt"/>
<line x1="190.26" y1="609.66" x2="197.26" y2="609.66" stroke="#b000e2" stroke-width="2.0" stroke-linecap="butt"/>
<line x1="228.98" y1="613.94" x2="228.98" y2="620.05" stroke="#b000e2" stroke-width="1.7" stroke-linecap="butt"/>
<line x1="225.48" y1="613.94" x2="232.48" y2="613.94" stroke="#b000e2" stroke-width="2.0" stroke-linecap="butt"/>
<line x1="225.48" y1="620.05" x2="232.48" y2="620.05" stroke="#b000e2" stroke-width="2.0" stroke-linecap="butt"/>
<line x1="264.20" y1="613.32" x2="264.20" y2="619.44" stroke="#b000e2" stroke-width="1.7" stroke-linecap="butt"/>
<line x1="260.70" y1="613.32" x2="267.70" y2="613.32" stroke="#b000e2" stroke-width="2.0" stroke-linecap="butt"/>
<line x1="260.70" y1="619.44" x2="267.70" y2="619.44" stroke="#b000e2" stroke-width="2.0" stroke-linecap="butt"/>
<line x1="299.42" y1="628.91" x2="299.42" y2="637.47" stroke="#b000e2" stroke-width="1.7" stroke-linecap="butt"/>
<line x1="295.92" y1="628.91" x2="302.92" y2="628.91" stroke="#b000e2" stroke-width="2.0" stroke-linecap="butt"/>
<line x1="295.92" y1="637.47" x2="302.92" y2="637.47" stroke="#b000e2" stroke-width="2.0" stroke-linecap="butt"/>
<line x1="334.64" y1="615.46" x2="334.64" y2="621.58" stroke="#b000e2" stroke-width="1.7" stroke-linecap="butt"/>
<line x1="331.14" y1="615.46" x2="338.14" y2="615.46" stroke="#b000e2" stroke-width="2.0" stroke-linecap="butt"/>
<line x1="331.14" y1="621.58" x2="338.14" y2="621.58" stroke="#b000e2" stroke-width="2.0" stroke-linecap="butt"/>
<line x1="369.86" y1="564.42" x2="369.86" y2="575.43" stroke="#b000e2" stroke-width="1.7" stroke-linecap="butt"/>
<line x1="366.36" y1="564.42" x2="373.36" y2="564.42" stroke="#b000e2" stroke-width="2.0" stroke-linecap="butt"/>
<line x1="366.36" y1="575.43" x2="373.36" y2="575.43" stroke="#b000e2" stroke-width="2.0" stroke-linecap="butt"/>
<line x1="405.08" y1="549.14" x2="405.08" y2="558.92" stroke="#b000e2" stroke-width="1.7" stroke-linecap="butt"/>
<line x1="401.58" y1="549.14" x2="408.58" y2="549.14" stroke="#b000e2" stroke-width="2.0" stroke-linecap="butt"/>
<line x1="401.58" y1="558.92" x2="408.58" y2="558.92" stroke="#b000e2" stroke-width="2.0" stroke-linecap="butt"/>
<line x1="440.30" y1="508.80" x2="440.30" y2="516.14" stroke="#b000e2" stroke-width="1.7" stroke-linecap="butt"/>
<line x1="436.80" y1="508.80" x2="443.80" y2="508.80" stroke="#b000e2" stroke-width="2.0" stroke-linecap="butt"/>
<line x1="436.80" y1="516.14" x2="443.80" y2="516.14" stroke="#b000e2" stroke-width="2.0" stroke-linecap="butt"/>
<polyline points="88.10,525.92 123.32,537.84 158.54,535.70 193.76,610.88 228.98,619.44 264.20,620.66 299.42,624.94 334.64,623.11 369.86,627.38 405.08,624.94 440.30,616.08" fill="none" stroke="#1ebe1e" stroke-width="2.0" stroke-linejoin="miter"/>
<line x1="88.10" y1="521.64" x2="88.10" y2="530.19" stroke="#1ebe1e" stroke-width="1.7" stroke-linecap="butt"/>
<line x1="84.60" y1="521.64" x2="91.60" y2="521.64" stroke="#1ebe1e" stroke-width="2.0" stroke-linecap="butt"/>
<line x1="84.60" y1="530.19" x2="91.60" y2="530.19" stroke="#1ebe1e" stroke-width="2.0" stroke-linecap="butt"/>
<line x1="123.32" y1="534.78" x2="123.32" y2="540.89" stroke="#1ebe1e" stroke-width="1.7" stroke-linecap="butt"/>
<line x1="119.82" y1="534.78" x2="126.82" y2="534.78" stroke="#1ebe1e" stroke-width="2.0" stroke-linecap="butt"/>
<line x1="119.82" y1="540.89" x2="126.82" y2="540.89" stroke="#1ebe1e" stroke-width="2.0" stroke-linecap="butt"/>
<line x1="158.54" y1="532.64" x2="158.54" y2="538.75" stroke="#1ebe1e" stroke-width="1.7" stroke-linecap="butt"/>
<line x1="155.04" y1="532.64" x2="162.04" y2="532.64" stroke="#1ebe1e" stroke-width="2.0" stroke-linecap="butt"/>
<line x1="155.04" y1="538.75" x2="162.04" y2="538.75" stroke="#1ebe1e" stroke-width="2.0" stroke-linecap="butt"/>
<line x1="193.76" y1="607.21" x2="193.76" y2="614.55" stroke="#1ebe1e" stroke-width="1.7" stroke-linecap="butt"/>
<line x1="190.26" y1="607.21" x2="197.26" y2="607.21" stroke="#1ebe1e" stroke-width="2.0" stroke-linecap="butt"/>
<line x1="190.26" y1="614.55" x2="197.26" y2="614.55" stroke="#1ebe1e" stroke-width="2.0" stroke-linecap="butt"/>
<line x1="228.98" y1="616.38" x2="228.98" y2="622.49" stroke="#1ebe1e" stroke-width="1.7" stroke-linecap="butt"/>
<line x1="225.48" y1="616.38" x2="232.48" y2="616.38" stroke="#1ebe1e" stroke-width="2.0" stroke-linecap="butt"/>
<line x1="225.48" y1="622.49" x2="232.48" y2="622.49" stroke="#1ebe1e" stroke-width="2.0" stroke-linecap="butt"/>
<line x1="264.20" y1="617.60" x2="264.20" y2="623.72" stroke="#1ebe1e" stroke-width="1.7" stroke-linecap="butt"/>
<line x1="260.70" y1="617.60" x2="267.70" y2="617.60" stroke="#1ebe1e" stroke-width="2.0" stroke-linecap="butt"/>
<line x1="260.70" y1="623.72" x2="267.70" y2="623.72" stroke="#1ebe1e" stroke-width="2.0" stroke-linecap="butt"/>
<line x1="299.42" y1="621.88" x2="299.42" y2="628.00" stroke="#1ebe1e" stroke-width="1.7" stroke-linecap="butt"/>
<line x1="295.92" y1="621.88" x2="302.92" y2="621.88" stroke="#1ebe1e" stroke-width="2.0" stroke-linecap="butt"/>
<line x1="295.92" y1="628.00" x2="302.92" y2="628.00" stroke="#1ebe1e" stroke-width="2.0" stroke-linecap="butt"/>
<line x1="334.64" y1="620.05" x2="334.64" y2="626.16" stroke="#1ebe1e" stroke-width="1.7" stroke-linecap="butt"/>
<line x1="331.14" y1="620.05" x2="338.14" y2="620.05" stroke="#1ebe1e" stroke-width="2.0" stroke-linecap="butt"/>
<line x1="331.14" y1="626.16" x2="338.14" y2="626.16" stroke="#1ebe1e" stroke-width="2.0" stroke-linecap="butt"/>
<line x1="369.86" y1="623.72" x2="369.86" y2="631.05" stroke="#1ebe1e" stroke-width="1.7" stroke-linecap="butt"/>
<line x1="366.36" y1="623.72" x2="373.36" y2="623.72" stroke="#1ebe1e" stroke-width="2.0" stroke-linecap="butt"/>
<line x1="366.36" y1="631.05" x2="373.36" y2="631.05" stroke="#1ebe1e" stroke-width="2.0" stroke-linecap="butt"/>
<line x1="405.08" y1="621.27" x2="405.08" y2="628.61" stroke="#1ebe1e" stroke-width="1.7" stroke-linecap="butt"/>
<line x1="401.58" y1="621.27" x2="408.58" y2="621.27" stroke="#1ebe1e" stroke-width="2.0" stroke-linecap="butt"/>
<line x1="401.58" y1="628.61" x2="408.58" y2="628.61" stroke="#1ebe1e" stroke-width="2.0" stroke-linecap="butt"/>
<line x1="440.30" y1="613.63" x2="440.30" y2="618.52" stroke="#1ebe1e" stroke-width="1.7" stroke-linecap="butt"/>
<line x1="436.80" y1="613.63" x2="443.80" y2="613.63" stroke="#1ebe1e" stroke-width="2.0" stroke-linecap="butt"/>
<line x1="436.80" y1="618.52" x2="443.80" y2="618.52" stroke="#1ebe1e" stroke-width="2.0" stroke-linecap="butt"/>
<polyline points="88.10,531.42 123.32,532.64 158.54,539.36 193.76,522.25 228.98,529.28 264.20,526.53 299.42,524.08 334.64,528.36 369.86,519.19 405.08,522.86 440.30,519.19" fill="none" stroke="#ff1414" stroke-width="2.0" stroke-linejoin="miter"/>
<line x1="88.10" y1="528.36" x2="88.10" y2="534.47" stroke="#ff1414" stroke-width="1.7" stroke-linecap="butt"/>
<line x1="84.60" y1="528.36" x2="91.60" y2="528.36" stroke="#ff1414" stroke-width="2.0" stroke-linecap="butt"/>
<line x1="84.60" y1="534.47" x2="91.60" y2="534.47" stroke="#ff1414" stroke-width="2.0" stroke-linecap="butt"/>
<line x1="123.32" y1="530.19" x2="123.32" y2="535.09" stroke="#ff1414" stroke-width="1.7" stroke-linecap="butt"/>
<line x1="119.82" y1="530.19" x2="126.82" y2="530.19" stroke="#ff1414" stroke-width="2.0" stroke-linecap="butt"/>
<line x1="119.82" y1="535.09" x2="126.82" y2="535.09" stroke="#ff1414" stroke-width="2.0" stroke-linecap="butt"/>
<line x1="158.54" y1="536.31" x2="158.54" y2="542.42" stroke="#ff1414" stroke-width="1.7" stroke-linecap="butt"/>
<line x1="155.04" y1="536.31" x2="162.04" y2="536.31" stroke="#ff1414" stroke-width="2.0" stroke-linecap="butt"/>
<line x1="155.04" y1="542.42" x2="162.04" y2="542.42" stroke="#ff1414" stroke-width="2.0" stroke-linecap="butt"/>
<line x1="193.76" y1="517.36" x2="193.76" y2="527.14" stroke="#ff1414" stroke-width="1.7" stroke-linecap="butt"/>
<line x1="190.26" y1="517.36" x2="197.26" y2="517.36" stroke="#ff1414" stroke-width="2.0" stroke-linecap="butt"/>
<line x1="190.26" y1="527.14" x2="197.26" y2="527.14" stroke="#ff1414" stroke-width="2.0" stroke-linecap="butt"/>
<line x1="228.98" y1="526.22" x2="228.98" y2="532.33" stroke="#ff1414" stroke-width="1.7" stroke-linecap="butt"/>
<line x1="225.48" y1="526.22" x2="232.48" y2="526.22" stroke="#ff1414" stroke-width="2.0" stroke-linecap="butt"/>
<line x1="225.48" y1="532.33" x2="232.48" y2="532.33" stroke="#ff1414" stroke-width="2.0" stroke-linecap="butt"/>
<line x1="264.20" y1="523.47" x2="264.20" y2="529.58" stroke="#ff1414" stroke-width="1.7" stroke-linecap="butt"/>
<line x1="260.70" y1="523.47" x2="267.70" y2="523.47" stroke="#ff1414" stroke-width="2.0" stroke-linecap="butt"/>
<line x1="260.70" y1="529.58" x2="267.70" y2="529.58" stroke="#ff1414" stroke-width="2.0" stroke-linecap="butt"/>
<line x1="299.42" y1="518.58" x2="299.42" y2="529.58" stroke="#ff1414" stroke-width="1.7" stroke-linecap="butt"/>
<line x1="295.92" y1="518.58" x2="302.92" y2="518.58" stroke="#ff1414" stroke-width="2.0" stroke-linecap="butt"/>
<line x1="295.92" y1="529.58" x2="302.92" y2="529.58" stroke="#ff1414" stroke-width="2.0" stroke-linecap="butt"/>
<line x1="334.64" y1="525.30" x2="334.64" y2="531.42" stroke="#ff1414" stroke-width="1.7" stroke-linecap="butt"/>
<line x1="331.14" y1="525.30" x2="338.14" y2="525.30" stroke="#ff1414" stroke-width="2.0" stroke-linecap="butt"/>
<line x1="331.14" y1="531.42" x2="338.14" y2="531.42" stroke="#ff1414" stroke-width="2.0" stroke-linecap="butt"/>
<line x1="369.86" y1="514.30" x2="369.86" y2="524.08" stroke="#ff1414" stroke-width="1.7" stroke-linecap="butt"/>
<line x1="366.36" y1="514.30" x2="373.36" y2="514.30" stroke="#ff1414" stroke-width="2.0" stroke-linecap="butt"/>
<line x1="366.36" y1="524.08" x2="373.36" y2="524.08" stroke="#ff1414" stroke-width="2.0" stroke-linecap="butt"/>
<line x1="405.08" y1="519.19" x2="405.08" y2="526.53" stroke="#ff1414" stroke-width="1.7" stroke-linecap="butt"/>
<line x1="401.58" y1="519.19" x2="408.58" y2="519.19" stroke="#ff1414" stroke-width="2.0" stroke-linecap="butt"/>
<line x1="401.58" y1="526.53" x2="408.58" y2="526.53" stroke="#ff1414" stroke-width="2.0" stroke-linecap="butt"/>
<line x1="440.30" y1="516.14" x2="440.30" y2="522.25" stroke="#ff1414" stroke-width="1.7" stroke-linecap="butt"/>
<line x1="436.80" y1="516.14" x2="443.80" y2="516.14" stroke="#ff1414" stroke-width="2.0" stroke-linecap="butt"/>
<line x1="436.80" y1="522.25" x2="443.80" y2="522.25" stroke="#ff1414" stroke-width="2.0" stroke-linecap="butt"/>
<polyline points="88.10,549.14 123.32,527.14 158.54,533.86 193.76,533.25 228.98,520.41 264.20,526.53 299.42,528.97 334.64,527.14 369.86,533.25 405.08,531.72 440.30,516.75" fill="none" stroke="#1414ff" stroke-width="2.0" stroke-linejoin="miter"/>
<line x1="88.10" y1="546.70" x2="88.10" y2="551.59" stroke="#1414ff" stroke-width="1.7" stroke-linecap="butt"/>
<line x1="84.60" y1="546.70" x2="91.60" y2="546.70" stroke="#1414ff" stroke-width="2.0" stroke-linecap="butt"/>
<line x1="84.60" y1="551.59" x2="91.60" y2="551.59" stroke="#1414ff" stroke-width="2.0" stroke-linecap="butt"/>
<line x1="123.32" y1="522.86" x2="123.32" y2="531.42" stroke="#1414ff" stroke-width="1.7" stroke-linecap="butt"/>
<line x1="119.82" y1="522.86" x2="126.82" y2="522.86" stroke="#1414ff" stroke-width="2.0" stroke-linecap="butt"/>
<line x1="119.82" y1="531.42" x2="126.82" y2="531.42" stroke="#1414ff" stroke-width="2.0" stroke-linecap="butt"/>
<line x1="158.54" y1="530.81" x2="158.54" y2="536.92" stroke="#1414ff" stroke-width="1.7" stroke-linecap="butt"/>
<line x1="155.04" y1="530.81" x2="162.04" y2="530.81" stroke="#1414ff" stroke-width="2.0" stroke-linecap="butt"/>
<line x1="155.04" y1="536.92" x2="162.04" y2="536.92" stroke="#1414ff" stroke-width="2.0" stroke-linecap="butt"/>
<line x1="193.76" y1="528.97" x2="193.76" y2="537.53" stroke="#1414ff" stroke-width="1.7" stroke-linecap="butt"/>
<line x1="190.26" y1="528.97" x2="197.26" y2="528.97" stroke="#1414ff" stroke-width="2.0" stroke-linecap="butt"/>
<line x1="190.26" y1="537.53" x2="197.26" y2="537.53" stroke="#1414ff" stroke-width="2.0" stroke-linecap="butt"/>
<line x1="228.98" y1="514.91" x2="228.98" y2="525.92" stroke="#1414ff" stroke-width="1.7" stroke-linecap="butt"/>
<line x1="225.48" y1="514.91" x2="232.48" y2="514.91" stroke="#1414ff" stroke-width="2.0" stroke-linecap="butt"/>
<line x1="225.48" y1="525.92" x2="232.48" y2="525.92" stroke="#1414ff" stroke-width="2.0" stroke-linecap="butt"/>
<line x1="264.20" y1="522.25" x2="264.20" y2="530.81" stroke="#1414ff" stroke-width="1.7" stroke-linecap="butt"/>
<line x1="260.70" y1="522.25" x2="267.70" y2="522.25" stroke="#1414ff" stroke-width="2.0" stroke-linecap="butt"/>
<line x1="260.70" y1="530.81" x2="267.70" y2="530.81" stroke="#1414ff" stroke-width="2.0" stroke-linecap="butt"/>
<line x1="299.42" y1="524.69" x2="299.42" y2="533.25" stroke="#1414ff" stroke-width="1.7" stroke-linecap="butt"/>
<line x1="295.92" y1="524.69" x2="302.92" y2="524.69" stroke="#1414ff" stroke-width="2.0" stroke-linecap="butt"/>
<line x1="295.92" y1="533.25" x2="302.92" y2="533.25" stroke="#1414ff" stroke-width="2.0" stroke-linecap="butt"/>
<line x1="334.64" y1="522.86" x2="334.64" y2="531.42" stroke="#1414ff" stroke-width="1.7" stroke-linecap="butt"/>
<line x1="331.14" y1="522.86" x2="338.14" y2="522.86" stroke="#1414ff" stroke-width="2.0" stroke-linecap="butt"/>
<line x1="331.14" y1="531.42" x2="338.14" y2="531.42" stroke="#1414ff" stroke-width="2.0" stroke-linecap="butt"/>
<line x1="369.86" y1="528.97" x2="369.86" y2="537.53" stroke="#1414ff" stroke-width="1.7" stroke-linecap="butt"/>
<line x1="366.36" y1="528.97" x2="373.36" y2="528.97" stroke="#1414ff" stroke-width="2.0" stroke-linecap="butt"/>
<line x1="366.36" y1="537.53" x2="373.36" y2="537.53" stroke="#1414ff" stroke-width="2.0" stroke-linecap="butt"/>
<line x1="405.08" y1="527.44" x2="405.08" y2="536.00" stroke="#1414ff" stroke-width="1.7" stroke-linecap="butt"/>
<line x1="401.58" y1="527.44" x2="408.58" y2="527.44" stroke="#1414ff" stroke-width="2.0" stroke-linecap="butt"/>
<line x1="401.58" y1="536.00" x2="408.58" y2="536.00" stroke="#1414ff" stroke-width="2.0" stroke-linecap="butt"/>
<line x1="440.30" y1="513.69" x2="440.30" y2="519.80" stroke="#1414ff" stroke-width="1.7" stroke-linecap="butt"/>
<line x1="436.80" y1="513.69" x2="443.80" y2="513.69" stroke="#1414ff" stroke-width="2.0" stroke-linecap="butt"/>
<line x1="436.80" y1="519.80" x2="443.80" y2="519.80" stroke="#1414ff" stroke-width="2.0" stroke-linecap="butt"/>
<text x="193.20" y="595.40" font-family='"Liberation Sans", sans-serif' font-size="20.6" font-weight="normal" text-anchor="start" fill="#000" stroke="#000" stroke-width="0.35">###</text>
<path d="M430.69,499.35L430.69,496.00M430.69,499.35L433.87,498.31M430.69,499.35L432.65,502.06M430.69,499.35L428.72,502.06M430.69,499.35L427.50,498.31" stroke="#000" stroke-width="1.4" stroke-linecap="round" fill="none"/>
<path d="M439.79,499.35L439.79,496.00M439.79,499.35L442.97,498.31M439.79,499.35L441.75,502.06M439.79,499.35L437.82,502.06M439.79,499.35L436.60,498.31" stroke="#000" stroke-width="1.4" stroke-linecap="round" fill="none"/>
<path d="M448.89,499.35L448.89,496.00M448.89,499.35L452.07,498.31M448.89,499.35L450.85,502.06M448.89,499.35L446.92,502.06M448.89,499.35L445.70,498.31" stroke="#000" stroke-width="1.4" stroke-linecap="round" fill="none"/>
<path d="M395.29,513.95L395.29,510.60M395.29,513.95L398.47,512.91M395.29,513.95L397.25,516.66M395.29,513.95L393.32,516.66M395.29,513.95L392.10,512.91" stroke="#000" stroke-width="1.4" stroke-linecap="round" fill="none"/>
<path d="M404.39,513.95L404.39,510.60M404.39,513.95L407.57,512.91M404.39,513.95L406.35,516.66M404.39,513.95L402.42,516.66M404.39,513.95L401.20,512.91" stroke="#000" stroke-width="1.4" stroke-linecap="round" fill="none"/>
<path d="M413.49,513.95L413.49,510.60M413.49,513.95L416.67,512.91M413.49,513.95L415.45,516.66M413.49,513.95L411.52,516.66M413.49,513.95L410.30,512.91" stroke="#000" stroke-width="1.4" stroke-linecap="round" fill="none"/>
<path d="M394.59,542.25L394.59,538.90M394.59,542.25L397.77,541.21M394.59,542.25L396.55,544.96M394.59,542.25L392.62,544.96M394.59,542.25L391.40,541.21" stroke="#000" stroke-width="1.4" stroke-linecap="round" fill="none"/>
<path d="M403.69,542.25L403.69,538.90M403.69,542.25L406.87,541.21M403.69,542.25L405.65,544.96M403.69,542.25L401.72,544.96M403.69,542.25L400.50,541.21" stroke="#000" stroke-width="1.4" stroke-linecap="round" fill="none"/>
<path d="M412.79,542.25L412.79,538.90M412.79,542.25L415.97,541.21M412.79,542.25L414.75,544.96M412.79,542.25L410.82,544.96M412.79,542.25L409.60,541.21" stroke="#000" stroke-width="1.4" stroke-linecap="round" fill="none"/>
<path d="M402.09,567.05L402.09,563.70M402.09,567.05L405.27,566.01M402.09,567.05L404.05,569.76M402.09,567.05L400.12,569.76M402.09,567.05L398.90,566.01" stroke="#000" stroke-width="1.4" stroke-linecap="round" fill="none"/>
<path d="M411.19,567.05L411.19,563.70M411.19,567.05L414.37,566.01M411.19,567.05L413.15,569.76M411.19,567.05L409.22,569.76M411.19,567.05L408.00,566.01" stroke="#000" stroke-width="1.4" stroke-linecap="round" fill="none"/>
<path d="M420.29,567.05L420.29,563.70M420.29,567.05L423.47,566.01M420.29,567.05L422.25,569.76M420.29,567.05L418.32,569.76M420.29,567.05L417.10,566.01" stroke="#000" stroke-width="1.4" stroke-linecap="round" fill="none"/>
<path d="M436.79,564.25L436.79,560.90M436.79,564.25L439.97,563.21M436.79,564.25L438.75,566.96M436.79,564.25L434.82,566.96M436.79,564.25L433.60,563.21" stroke="#000" stroke-width="1.4" stroke-linecap="round" fill="none"/>
<path d="M445.89,564.25L445.89,560.90M445.89,564.25L449.07,563.21M445.89,564.25L447.85,566.96M445.89,564.25L443.92,566.96M445.89,564.25L442.70,563.21" stroke="#000" stroke-width="1.4" stroke-linecap="round" fill="none"/>
<path d="M454.99,564.25L454.99,560.90M454.99,564.25L458.17,563.21M454.99,564.25L456.95,566.96M454.99,564.25L453.02,566.96M454.99,564.25L451.80,563.21" stroke="#000" stroke-width="1.4" stroke-linecap="round" fill="none"/>
<path d="M365.39,597.65L365.39,594.30M365.39,597.65L368.57,596.61M365.39,597.65L367.35,600.36M365.39,597.65L363.42,600.36M365.39,597.65L362.20,596.61" stroke="#000" stroke-width="1.4" stroke-linecap="round" fill="none"/>
<path d="M374.49,597.65L374.49,594.30M374.49,597.65L377.67,596.61M374.49,597.65L376.45,600.36M374.49,597.65L372.52,600.36M374.49,597.65L371.30,596.61" stroke="#000" stroke-width="1.4" stroke-linecap="round" fill="none"/>
<path d="M441.49,597.65L441.49,594.30M441.49,597.65L444.67,596.61M441.49,597.65L443.45,600.36M441.49,597.65L439.52,600.36M441.49,597.65L438.30,596.61" stroke="#000" stroke-width="1.4" stroke-linecap="round" fill="none"/>
<rect x="610.90" y="449.00" width="3.80" height="236.00" fill="#000" />
<rect x="610.90" y="681.20" width="407.20" height="3.80" fill="#000" />
<rect x="608.40" y="681.30" width="3.00" height="3.60" fill="#000" />
<text x="604.60" y="689.50" font-family='"Liberation Sans", sans-serif' font-size="17.9" font-weight="bold" text-anchor="end" fill="#000" >0</text>
<rect x="608.40" y="623.25" width="3.00" height="3.60" fill="#000" />
<text x="604.60" y="631.45" font-family='"Liberation Sans", sans-serif' font-size="17.9" font-weight="bold" text-anchor="end" fill="#000" >10</text>
<rect x="608.40" y="565.20" width="3.00" height="3.60" fill="#000" />
<text x="604.60" y="573.40" font-family='"Liberation Sans", sans-serif' font-size="17.9" font-weight="bold" text-anchor="end" fill="#000" >20</text>
<rect x="608.40" y="507.15" width="3.00" height="3.60" fill="#000" />
<text x="604.60" y="515.35" font-family='"Liberation Sans", sans-serif' font-size="17.9" font-weight="bold" text-anchor="end" fill="#000" >30</text>
<rect x="608.40" y="449.10" width="3.00" height="3.60" fill="#000" />
<text x="604.60" y="457.30" font-family='"Liberation Sans", sans-serif' font-size="17.9" font-weight="bold" text-anchor="end" fill="#000" >40</text>
<rect x="630.10" y="683.10" width="3.60" height="5.10" fill="#000" />
<rect x="666.80" y="683.10" width="3.60" height="5.10" fill="#000" />
<rect x="703.50" y="683.10" width="3.60" height="5.10" fill="#000" />
<rect x="740.20" y="683.10" width="3.60" height="5.10" fill="#000" />
<rect x="776.90" y="683.10" width="3.60" height="5.10" fill="#000" />
<rect x="813.60" y="683.10" width="3.60" height="5.10" fill="#000" />
<rect x="850.30" y="683.10" width="3.60" height="5.10" fill="#000" />
<rect x="887.00" y="683.10" width="3.60" height="5.10" fill="#000" />
<rect x="923.70" y="683.10" width="3.60" height="5.10" fill="#000" />
<rect x="960.40" y="683.10" width="3.60" height="5.10" fill="#000" />
<rect x="997.10" y="683.10" width="3.60" height="5.10" fill="#000" />
<text x="630.30" y="710.40" font-family='"Liberation Sans", sans-serif' font-size="17.9" font-weight="bold" text-anchor="middle" fill="#000" >-1</text>
<text x="667.00" y="710.40" font-family='"Liberation Sans", sans-serif' font-size="17.9" font-weight="bold" text-anchor="middle" fill="#000" >3</text>
<text x="703.70" y="710.40" font-family='"Liberation Sans", sans-serif' font-size="17.9" font-weight="bold" text-anchor="middle" fill="#000" >5</text>
<text x="740.40" y="710.40" font-family='"Liberation Sans", sans-serif' font-size="17.9" font-weight="bold" text-anchor="middle" fill="#000" >7</text>
<text x="777.10" y="710.40" font-family='"Liberation Sans", sans-serif' font-size="17.9" font-weight="bold" text-anchor="middle" fill="#000" >9</text>
<text x="813.80" y="710.40" font-family='"Liberation Sans", sans-serif' font-size="17.9" font-weight="bold" text-anchor="middle" fill="#000" >11</text>
<text x="850.50" y="710.40" font-family='"Liberation Sans", sans-serif' font-size="17.9" font-weight="bold" text-anchor="middle" fill="#000" >13</text>
<text x="887.20" y="710.40" font-family='"Liberation Sans", sans-serif' font-size="17.9" font-weight="bold" text-anchor="middle" fill="#000" >14</text>
<text x="923.90" y="710.40" font-family='"Liberation Sans", sans-serif' font-size="17.9" font-weight="bold" text-anchor="middle" fill="#000" >0.5 h</text>
<text x="960.60" y="710.40" font-family='"Liberation Sans", sans-serif' font-size="17.9" font-weight="bold" text-anchor="middle" fill="#000" >2 h</text>
<text x="997.30" y="710.40" font-family='"Liberation Sans", sans-serif' font-size="17.9" font-weight="bold" text-anchor="middle" fill="#000" >4 h</text>
<line x1="914.50" y1="714.50" x2="1000.50" y2="714.50" stroke="#000" stroke-width="1.6" stroke-linecap="butt"/>
<text x="953.30" y="735.00" font-family='"Liberation Sans", sans-serif' font-size="19.2" font-weight="bold" text-anchor="middle" fill="#000" >14 d</text>
<text x="678.80" y="735.40" font-family='"Liberation Sans", sans-serif' font-size="20.2" font-weight="bold" text-anchor="start" fill="#000" >Date after surgery(d)</text>
<text x="0.00" y="0.00" font-family='"Liberation Sans", sans-serif' font-size="20.0" font-weight="bold" text-anchor="start" fill="#000" transform="translate(574.00,731.60) rotate(-90)">Mechanical allodynia thresholds(g)</text>
<polyline points="631.90,518.82 668.60,523.46 705.30,520.85 742.00,522.88 778.70,514.75 815.40,514.75 852.10,514.75 888.80,501.98 925.50,490.95 962.20,506.63 998.90,489.79" fill="none" stroke="#9f6c26" stroke-width="1.9" stroke-linejoin="miter"/>
<line x1="631.90" y1="515.34" x2="631.90" y2="518.82" stroke="#9f6c26" stroke-width="1.5" stroke-linecap="butt"/>
<line x1="628.90" y1="515.34" x2="634.90" y2="515.34" stroke="#9f6c26" stroke-width="1.8" stroke-linecap="butt"/>
<line x1="668.60" y1="519.98" x2="668.60" y2="523.46" stroke="#9f6c26" stroke-width="1.5" stroke-linecap="butt"/>
<line x1="665.60" y1="519.98" x2="671.60" y2="519.98" stroke="#9f6c26" stroke-width="1.8" stroke-linecap="butt"/>
<line x1="705.30" y1="517.37" x2="705.30" y2="520.85" stroke="#9f6c26" stroke-width="1.5" stroke-linecap="butt"/>
<line x1="702.30" y1="517.37" x2="708.30" y2="517.37" stroke="#9f6c26" stroke-width="1.8" stroke-linecap="butt"/>
<line x1="742.00" y1="519.40" x2="742.00" y2="522.88" stroke="#9f6c26" stroke-width="1.5" stroke-linecap="butt"/>
<line x1="739.00" y1="519.40" x2="745.00" y2="519.40" stroke="#9f6c26" stroke-width="1.8" stroke-linecap="butt"/>
<line x1="778.70" y1="511.27" x2="778.70" y2="514.75" stroke="#9f6c26" stroke-width="1.5" stroke-linecap="butt"/>
<line x1="775.70" y1="511.27" x2="781.70" y2="511.27" stroke="#9f6c26" stroke-width="1.8" stroke-linecap="butt"/>
<line x1="815.40" y1="511.27" x2="815.40" y2="514.75" stroke="#9f6c26" stroke-width="1.5" stroke-linecap="butt"/>
<line x1="812.40" y1="511.27" x2="818.40" y2="511.27" stroke="#9f6c26" stroke-width="1.8" stroke-linecap="butt"/>
<line x1="852.10" y1="511.27" x2="852.10" y2="514.75" stroke="#9f6c26" stroke-width="1.5" stroke-linecap="butt"/>
<line x1="849.10" y1="511.27" x2="855.10" y2="511.27" stroke="#9f6c26" stroke-width="1.8" stroke-linecap="butt"/>
<line x1="888.80" y1="498.50" x2="888.80" y2="501.98" stroke="#9f6c26" stroke-width="1.5" stroke-linecap="butt"/>
<line x1="885.80" y1="498.50" x2="891.80" y2="498.50" stroke="#9f6c26" stroke-width="1.8" stroke-linecap="butt"/>
<line x1="925.50" y1="487.47" x2="925.50" y2="490.95" stroke="#9f6c26" stroke-width="1.5" stroke-linecap="butt"/>
<line x1="922.50" y1="487.47" x2="928.50" y2="487.47" stroke="#9f6c26" stroke-width="1.8" stroke-linecap="butt"/>
<line x1="962.20" y1="503.15" x2="962.20" y2="506.63" stroke="#9f6c26" stroke-width="1.5" stroke-linecap="butt"/>
<line x1="959.20" y1="503.15" x2="965.20" y2="503.15" stroke="#9f6c26" stroke-width="1.8" stroke-linecap="butt"/>
<line x1="998.90" y1="483.99" x2="998.90" y2="489.79" stroke="#9f6c26" stroke-width="1.5" stroke-linecap="butt"/>
<line x1="995.90" y1="483.99" x2="1001.90" y2="483.99" stroke="#9f6c26" stroke-width="1.8" stroke-linecap="butt"/>
<polyline points="631.90,517.08 668.60,523.46 705.30,516.21 742.00,522.88 778.70,523.46 815.40,506.63 852.10,513.59 888.80,521.14 925.50,497.34 962.20,513.01 998.90,504.02" fill="none" stroke="#000000" stroke-width="1.9" stroke-linejoin="miter"/>
<line x1="631.90" y1="513.59" x2="631.90" y2="517.08" stroke="#000000" stroke-width="1.5" stroke-linecap="butt"/>
<line x1="628.90" y1="513.59" x2="634.90" y2="513.59" stroke="#000000" stroke-width="1.8" stroke-linecap="butt"/>
<line x1="668.60" y1="519.98" x2="668.60" y2="523.46" stroke="#000000" stroke-width="1.5" stroke-linecap="butt"/>
<line x1="665.60" y1="519.98" x2="671.60" y2="519.98" stroke="#000000" stroke-width="1.8" stroke-linecap="butt"/>
<line x1="705.30" y1="512.72" x2="705.30" y2="516.21" stroke="#000000" stroke-width="1.5" stroke-linecap="butt"/>
<line x1="702.30" y1="512.72" x2="708.30" y2="512.72" stroke="#000000" stroke-width="1.8" stroke-linecap="butt"/>
<line x1="742.00" y1="519.40" x2="742.00" y2="522.88" stroke="#000000" stroke-width="1.5" stroke-linecap="butt"/>
<line x1="739.00" y1="519.40" x2="745.00" y2="519.40" stroke="#000000" stroke-width="1.8" stroke-linecap="butt"/>
<line x1="778.70" y1="519.98" x2="778.70" y2="523.46" stroke="#000000" stroke-width="1.5" stroke-linecap="butt"/>
<line x1="775.70" y1="519.98" x2="781.70" y2="519.98" stroke="#000000" stroke-width="1.8" stroke-linecap="butt"/>
<line x1="815.40" y1="500.82" x2="815.40" y2="506.63" stroke="#000000" stroke-width="1.5" stroke-linecap="butt"/>
<line x1="812.40" y1="500.82" x2="818.40" y2="500.82" stroke="#000000" stroke-width="1.8" stroke-linecap="butt"/>
<line x1="852.10" y1="510.11" x2="852.10" y2="513.59" stroke="#000000" stroke-width="1.5" stroke-linecap="butt"/>
<line x1="849.10" y1="510.11" x2="855.10" y2="510.11" stroke="#000000" stroke-width="1.8" stroke-linecap="butt"/>
<line x1="888.80" y1="517.66" x2="888.80" y2="521.14" stroke="#000000" stroke-width="1.5" stroke-linecap="butt"/>
<line x1="885.80" y1="517.66" x2="891.80" y2="517.66" stroke="#000000" stroke-width="1.8" stroke-linecap="butt"/>
<line x1="925.50" y1="493.86" x2="925.50" y2="497.34" stroke="#000000" stroke-width="1.5" stroke-linecap="butt"/>
<line x1="922.50" y1="493.86" x2="928.50" y2="493.86" stroke="#000000" stroke-width="1.8" stroke-linecap="butt"/>
<line x1="962.20" y1="509.53" x2="962.20" y2="513.01" stroke="#000000" stroke-width="1.5" stroke-linecap="butt"/>
<line x1="959.20" y1="509.53" x2="965.20" y2="509.53" stroke="#000000" stroke-width="1.8" stroke-linecap="butt"/>
<line x1="998.90" y1="500.53" x2="998.90" y2="504.02" stroke="#000000" stroke-width="1.5" stroke-linecap="butt"/>
<line x1="995.90" y1="500.53" x2="1001.90" y2="500.53" stroke="#000000" stroke-width="1.8" stroke-linecap="butt"/>
<polyline points="631.90,518.82 668.60,529.85 705.30,520.85 742.00,520.56 778.70,517.66 815.40,513.59 852.10,514.75 888.80,499.95 925.50,496.76 962.20,503.73 998.90,497.92" fill="none" stroke="#ff8414" stroke-width="1.9" stroke-linejoin="miter"/>
<line x1="631.90" y1="515.34" x2="631.90" y2="518.82" stroke="#ff8414" stroke-width="1.5" stroke-linecap="butt"/>
<line x1="628.90" y1="515.34" x2="634.90" y2="515.34" stroke="#ff8414" stroke-width="1.8" stroke-linecap="butt"/>
<line x1="668.60" y1="526.37" x2="668.60" y2="529.85" stroke="#ff8414" stroke-width="1.5" stroke-linecap="butt"/>
<line x1="665.60" y1="526.37" x2="671.60" y2="526.37" stroke="#ff8414" stroke-width="1.8" stroke-linecap="butt"/>
<line x1="705.30" y1="517.37" x2="705.30" y2="520.85" stroke="#ff8414" stroke-width="1.5" stroke-linecap="butt"/>
<line x1="702.30" y1="517.37" x2="708.30" y2="517.37" stroke="#ff8414" stroke-width="1.8" stroke-linecap="butt"/>
<line x1="742.00" y1="517.08" x2="742.00" y2="520.56" stroke="#ff8414" stroke-width="1.5" stroke-linecap="butt"/>
<line x1="739.00" y1="517.08" x2="745.00" y2="517.08" stroke="#ff8414" stroke-width="1.8" stroke-linecap="butt"/>
<line x1="778.70" y1="514.17" x2="778.70" y2="517.66" stroke="#ff8414" stroke-width="1.5" stroke-linecap="butt"/>
<line x1="775.70" y1="514.17" x2="781.70" y2="514.17" stroke="#ff8414" stroke-width="1.8" stroke-linecap="butt"/>
<line x1="815.40" y1="510.11" x2="815.40" y2="513.59" stroke="#ff8414" stroke-width="1.5" stroke-linecap="butt"/>
<line x1="812.40" y1="510.11" x2="818.40" y2="510.11" stroke="#ff8414" stroke-width="1.8" stroke-linecap="butt"/>
<line x1="852.10" y1="511.27" x2="852.10" y2="514.75" stroke="#ff8414" stroke-width="1.5" stroke-linecap="butt"/>
<line x1="849.10" y1="511.27" x2="855.10" y2="511.27" stroke="#ff8414" stroke-width="1.8" stroke-linecap="butt"/>
<line x1="888.80" y1="496.47" x2="888.80" y2="499.95" stroke="#ff8414" stroke-width="1.5" stroke-linecap="butt"/>
<line x1="885.80" y1="496.47" x2="891.80" y2="496.47" stroke="#ff8414" stroke-width="1.8" stroke-linecap="butt"/>
<line x1="925.50" y1="493.28" x2="925.50" y2="496.76" stroke="#ff8414" stroke-width="1.5" stroke-linecap="butt"/>
<line x1="922.50" y1="493.28" x2="928.50" y2="493.28" stroke="#ff8414" stroke-width="1.8" stroke-linecap="butt"/>
<line x1="962.20" y1="500.24" x2="962.20" y2="503.73" stroke="#ff8414" stroke-width="1.5" stroke-linecap="butt"/>
<line x1="959.20" y1="500.24" x2="965.20" y2="500.24" stroke="#ff8414" stroke-width="1.8" stroke-linecap="butt"/>
<line x1="998.90" y1="494.44" x2="998.90" y2="497.92" stroke="#ff8414" stroke-width="1.5" stroke-linecap="butt"/>
<line x1="995.90" y1="494.44" x2="1001.90" y2="494.44" stroke="#ff8414" stroke-width="1.8" stroke-linecap="butt"/>
<polyline points="631.90,522.59 668.60,525.20 705.30,516.21 742.00,521.72 778.70,516.21 815.40,518.82 852.10,522.88 888.80,506.05 925.50,492.99 962.20,503.15 998.90,511.27" fill="none" stroke="#b000e2" stroke-width="1.9" stroke-linejoin="miter"/>
<line x1="631.90" y1="519.11" x2="631.90" y2="522.59" stroke="#b000e2" stroke-width="1.5" stroke-linecap="butt"/>
<line x1="628.90" y1="519.11" x2="634.90" y2="519.11" stroke="#b000e2" stroke-width="1.8" stroke-linecap="butt"/>
<line x1="668.60" y1="521.72" x2="668.60" y2="525.20" stroke="#b000e2" stroke-width="1.5" stroke-linecap="butt"/>
<line x1="665.60" y1="521.72" x2="671.60" y2="521.72" stroke="#b000e2" stroke-width="1.8" stroke-linecap="butt"/>
<line x1="705.30" y1="512.72" x2="705.30" y2="516.21" stroke="#b000e2" stroke-width="1.5" stroke-linecap="butt"/>
<line x1="702.30" y1="512.72" x2="708.30" y2="512.72" stroke="#b000e2" stroke-width="1.8" stroke-linecap="butt"/>
<line x1="742.00" y1="518.24" x2="742.00" y2="521.72" stroke="#b000e2" stroke-width="1.5" stroke-linecap="butt"/>
<line x1="739.00" y1="518.24" x2="745.00" y2="518.24" stroke="#b000e2" stroke-width="1.8" stroke-linecap="butt"/>
<line x1="778.70" y1="512.72" x2="778.70" y2="516.21" stroke="#b000e2" stroke-width="1.5" stroke-linecap="butt"/>
<line x1="775.70" y1="512.72" x2="781.70" y2="512.72" stroke="#b000e2" stroke-width="1.8" stroke-linecap="butt"/>
<line x1="815.40" y1="515.34" x2="815.40" y2="518.82" stroke="#b000e2" stroke-width="1.5" stroke-linecap="butt"/>
<line x1="812.40" y1="515.34" x2="818.40" y2="515.34" stroke="#b000e2" stroke-width="1.8" stroke-linecap="butt"/>
<line x1="852.10" y1="519.40" x2="852.10" y2="522.88" stroke="#b000e2" stroke-width="1.5" stroke-linecap="butt"/>
<line x1="849.10" y1="519.40" x2="855.10" y2="519.40" stroke="#b000e2" stroke-width="1.8" stroke-linecap="butt"/>
<line x1="888.80" y1="502.56" x2="888.80" y2="506.05" stroke="#b000e2" stroke-width="1.5" stroke-linecap="butt"/>
<line x1="885.80" y1="502.56" x2="891.80" y2="502.56" stroke="#b000e2" stroke-width="1.8" stroke-linecap="butt"/>
<line x1="925.50" y1="489.50" x2="925.50" y2="492.99" stroke="#b000e2" stroke-width="1.5" stroke-linecap="butt"/>
<line x1="922.50" y1="489.50" x2="928.50" y2="489.50" stroke="#b000e2" stroke-width="1.8" stroke-linecap="butt"/>
<line x1="962.20" y1="497.92" x2="962.20" y2="503.15" stroke="#b000e2" stroke-width="1.5" stroke-linecap="butt"/>
<line x1="959.20" y1="497.92" x2="965.20" y2="497.92" stroke="#b000e2" stroke-width="1.8" stroke-linecap="butt"/>
<line x1="998.90" y1="507.79" x2="998.90" y2="511.27" stroke="#b000e2" stroke-width="1.5" stroke-linecap="butt"/>
<line x1="995.90" y1="507.79" x2="1001.90" y2="507.79" stroke="#b000e2" stroke-width="1.8" stroke-linecap="butt"/>
<polyline points="631.90,515.34 668.60,518.82 705.30,513.59 742.00,522.88 778.70,518.82 815.40,525.78 852.10,517.08 888.80,514.17 925.50,515.05 962.20,517.66 998.90,516.50" fill="none" stroke="#1ebe1e" stroke-width="1.9" stroke-linejoin="miter"/>
<line x1="631.90" y1="511.85" x2="631.90" y2="515.34" stroke="#1ebe1e" stroke-width="1.5" stroke-linecap="butt"/>
<line x1="628.90" y1="511.85" x2="634.90" y2="511.85" stroke="#1ebe1e" stroke-width="1.8" stroke-linecap="butt"/>
<line x1="668.60" y1="515.34" x2="668.60" y2="518.82" stroke="#1ebe1e" stroke-width="1.5" stroke-linecap="butt"/>
<line x1="665.60" y1="515.34" x2="671.60" y2="515.34" stroke="#1ebe1e" stroke-width="1.8" stroke-linecap="butt"/>
<line x1="705.30" y1="510.11" x2="705.30" y2="513.59" stroke="#1ebe1e" stroke-width="1.5" stroke-linecap="butt"/>
<line x1="702.30" y1="510.11" x2="708.30" y2="510.11" stroke="#1ebe1e" stroke-width="1.8" stroke-linecap="butt"/>
<line x1="742.00" y1="519.40" x2="742.00" y2="522.88" stroke="#1ebe1e" stroke-width="1.5" stroke-linecap="butt"/>
<line x1="739.00" y1="519.40" x2="745.00" y2="519.40" stroke="#1ebe1e" stroke-width="1.8" stroke-linecap="butt"/>
<line x1="778.70" y1="515.34" x2="778.70" y2="518.82" stroke="#1ebe1e" stroke-width="1.5" stroke-linecap="butt"/>
<line x1="775.70" y1="515.34" x2="781.70" y2="515.34" stroke="#1ebe1e" stroke-width="1.8" stroke-linecap="butt"/>
<line x1="815.40" y1="522.30" x2="815.40" y2="525.78" stroke="#1ebe1e" stroke-width="1.5" stroke-linecap="butt"/>
<line x1="812.40" y1="522.30" x2="818.40" y2="522.30" stroke="#1ebe1e" stroke-width="1.8" stroke-linecap="butt"/>
<line x1="852.10" y1="513.59" x2="852.10" y2="517.08" stroke="#1ebe1e" stroke-width="1.5" stroke-linecap="butt"/>
<line x1="849.10" y1="513.59" x2="855.10" y2="513.59" stroke="#1ebe1e" stroke-width="1.8" stroke-linecap="butt"/>
<line x1="888.80" y1="510.69" x2="888.80" y2="514.17" stroke="#1ebe1e" stroke-width="1.5" stroke-linecap="butt"/>
<line x1="885.80" y1="510.69" x2="891.80" y2="510.69" stroke="#1ebe1e" stroke-width="1.8" stroke-linecap="butt"/>
<line x1="925.50" y1="511.56" x2="925.50" y2="515.05" stroke="#1ebe1e" stroke-width="1.5" stroke-linecap="butt"/>
<line x1="922.50" y1="511.56" x2="928.50" y2="511.56" stroke="#1ebe1e" stroke-width="1.8" stroke-linecap="butt"/>
<line x1="962.20" y1="514.17" x2="962.20" y2="517.66" stroke="#1ebe1e" stroke-width="1.5" stroke-linecap="butt"/>
<line x1="959.20" y1="514.17" x2="965.20" y2="514.17" stroke="#1ebe1e" stroke-width="1.8" stroke-linecap="butt"/>
<line x1="998.90" y1="513.01" x2="998.90" y2="516.50" stroke="#1ebe1e" stroke-width="1.5" stroke-linecap="butt"/>
<line x1="995.90" y1="513.01" x2="1001.90" y2="513.01" stroke="#1ebe1e" stroke-width="1.8" stroke-linecap="butt"/>
<polyline points="631.90,525.20 668.60,516.21 705.30,508.95 742.00,524.33 778.70,508.08 815.40,520.85 852.10,509.82 888.80,506.63 925.50,517.08 962.20,509.82 998.90,508.95" fill="none" stroke="#ff1414" stroke-width="1.9" stroke-linejoin="miter"/>
<line x1="631.90" y1="521.72" x2="631.90" y2="525.20" stroke="#ff1414" stroke-width="1.5" stroke-linecap="butt"/>
<line x1="628.90" y1="521.72" x2="634.90" y2="521.72" stroke="#ff1414" stroke-width="1.8" stroke-linecap="butt"/>
<line x1="668.60" y1="512.72" x2="668.60" y2="516.21" stroke="#ff1414" stroke-width="1.5" stroke-linecap="butt"/>
<line x1="665.60" y1="512.72" x2="671.60" y2="512.72" stroke="#ff1414" stroke-width="1.8" stroke-linecap="butt"/>
<line x1="705.30" y1="506.34" x2="705.30" y2="508.95" stroke="#ff1414" stroke-width="1.5" stroke-linecap="butt"/>
<line x1="702.30" y1="506.34" x2="708.30" y2="506.34" stroke="#ff1414" stroke-width="1.8" stroke-linecap="butt"/>
<line x1="742.00" y1="520.85" x2="742.00" y2="524.33" stroke="#ff1414" stroke-width="1.5" stroke-linecap="butt"/>
<line x1="739.00" y1="520.85" x2="745.00" y2="520.85" stroke="#ff1414" stroke-width="1.8" stroke-linecap="butt"/>
<line x1="778.70" y1="502.27" x2="778.70" y2="508.08" stroke="#ff1414" stroke-width="1.5" stroke-linecap="butt"/>
<line x1="775.70" y1="502.27" x2="781.70" y2="502.27" stroke="#ff1414" stroke-width="1.8" stroke-linecap="butt"/>
<line x1="815.40" y1="517.37" x2="815.40" y2="520.85" stroke="#ff1414" stroke-width="1.5" stroke-linecap="butt"/>
<line x1="812.40" y1="517.37" x2="818.40" y2="517.37" stroke="#ff1414" stroke-width="1.8" stroke-linecap="butt"/>
<line x1="852.10" y1="503.44" x2="852.10" y2="509.82" stroke="#ff1414" stroke-width="1.5" stroke-linecap="butt"/>
<line x1="849.10" y1="503.44" x2="855.10" y2="503.44" stroke="#ff1414" stroke-width="1.8" stroke-linecap="butt"/>
<line x1="888.80" y1="503.15" x2="888.80" y2="506.63" stroke="#ff1414" stroke-width="1.5" stroke-linecap="butt"/>
<line x1="885.80" y1="503.15" x2="891.80" y2="503.15" stroke="#ff1414" stroke-width="1.8" stroke-linecap="butt"/>
<line x1="925.50" y1="513.59" x2="925.50" y2="517.08" stroke="#ff1414" stroke-width="1.5" stroke-linecap="butt"/>
<line x1="922.50" y1="513.59" x2="928.50" y2="513.59" stroke="#ff1414" stroke-width="1.8" stroke-linecap="butt"/>
<line x1="962.20" y1="506.34" x2="962.20" y2="509.82" stroke="#ff1414" stroke-width="1.5" stroke-linecap="butt"/>
<line x1="959.20" y1="506.34" x2="965.20" y2="506.34" stroke="#ff1414" stroke-width="1.8" stroke-linecap="butt"/>
<line x1="998.90" y1="505.47" x2="998.90" y2="508.95" stroke="#ff1414" stroke-width="1.5" stroke-linecap="butt"/>
<line x1="995.90" y1="505.47" x2="1001.90" y2="505.47" stroke="#ff1414" stroke-width="1.8" stroke-linecap="butt"/>
<polyline points="631.90,538.85 668.60,517.08 705.30,518.82 742.00,516.21 778.70,511.85 815.40,506.05 852.10,513.01 888.80,510.11 925.50,522.01 962.20,517.08 998.90,506.05" fill="none" stroke="#1414ff" stroke-width="1.9" stroke-linejoin="miter"/>
<line x1="631.90" y1="535.36" x2="631.90" y2="538.85" stroke="#1414ff" stroke-width="1.5" stroke-linecap="butt"/>
<line x1="628.90" y1="535.36" x2="634.90" y2="535.36" stroke="#1414ff" stroke-width="1.8" stroke-linecap="butt"/>
<line x1="668.60" y1="513.59" x2="668.60" y2="517.08" stroke="#1414ff" stroke-width="1.5" stroke-linecap="butt"/>
<line x1="665.60" y1="513.59" x2="671.60" y2="513.59" stroke="#1414ff" stroke-width="1.8" stroke-linecap="butt"/>
<line x1="705.30" y1="515.34" x2="705.30" y2="518.82" stroke="#1414ff" stroke-width="1.5" stroke-linecap="butt"/>
<line x1="702.30" y1="515.34" x2="708.30" y2="515.34" stroke="#1414ff" stroke-width="1.8" stroke-linecap="butt"/>
<line x1="742.00" y1="511.56" x2="742.00" y2="516.21" stroke="#1414ff" stroke-width="1.5" stroke-linecap="butt"/>
<line x1="739.00" y1="511.56" x2="745.00" y2="511.56" stroke="#1414ff" stroke-width="1.8" stroke-linecap="butt"/>
<line x1="778.70" y1="506.34" x2="778.70" y2="511.85" stroke="#1414ff" stroke-width="1.5" stroke-linecap="butt"/>
<line x1="775.70" y1="506.34" x2="781.70" y2="506.34" stroke="#1414ff" stroke-width="1.8" stroke-linecap="butt"/>
<line x1="815.40" y1="502.56" x2="815.40" y2="506.05" stroke="#1414ff" stroke-width="1.5" stroke-linecap="butt"/>
<line x1="812.40" y1="502.56" x2="818.40" y2="502.56" stroke="#1414ff" stroke-width="1.8" stroke-linecap="butt"/>
<line x1="852.10" y1="509.53" x2="852.10" y2="513.01" stroke="#1414ff" stroke-width="1.5" stroke-linecap="butt"/>
<line x1="849.10" y1="509.53" x2="855.10" y2="509.53" stroke="#1414ff" stroke-width="1.8" stroke-linecap="butt"/>
<line x1="888.80" y1="506.63" x2="888.80" y2="510.11" stroke="#1414ff" stroke-width="1.5" stroke-linecap="butt"/>
<line x1="885.80" y1="506.63" x2="891.80" y2="506.63" stroke="#1414ff" stroke-width="1.8" stroke-linecap="butt"/>
<line x1="925.50" y1="518.53" x2="925.50" y2="522.01" stroke="#1414ff" stroke-width="1.5" stroke-linecap="butt"/>
<line x1="922.50" y1="518.53" x2="928.50" y2="518.53" stroke="#1414ff" stroke-width="1.8" stroke-linecap="butt"/>
<line x1="962.20" y1="513.59" x2="962.20" y2="517.08" stroke="#1414ff" stroke-width="1.5" stroke-linecap="butt"/>
<line x1="959.20" y1="513.59" x2="965.20" y2="513.59" stroke="#1414ff" stroke-width="1.8" stroke-linecap="butt"/>
<line x1="998.90" y1="502.56" x2="998.90" y2="506.05" stroke="#1414ff" stroke-width="1.5" stroke-linecap="butt"/>
<line x1="995.90" y1="502.56" x2="1001.90" y2="502.56" stroke="#1414ff" stroke-width="1.8" stroke-linecap="butt"/>
<path d="M987.86,479.50L987.86,476.60M987.86,479.50L990.62,478.60M987.86,479.50L989.56,481.85M987.86,479.50L986.15,481.85M987.86,479.50L985.10,478.60" stroke="#000" stroke-width="1.2" stroke-linecap="round" fill="none"/>
<path d="M995.86,479.50L995.86,476.60M995.86,479.50L998.62,478.60M995.86,479.50L997.56,481.85M995.86,479.50L994.15,481.85M995.86,479.50L993.10,478.60" stroke="#000" stroke-width="1.2" stroke-linecap="round" fill="none"/>
<path d="M1003.86,479.50L1003.86,476.60M1003.86,479.50L1006.62,478.60M1003.86,479.50L1005.56,481.85M1003.86,479.50L1002.15,481.85M1003.86,479.50L1001.10,478.60" stroke="#000" stroke-width="1.2" stroke-linecap="round" fill="none"/>
<line x1="803.50" y1="544.10" x2="823.70" y2="544.10" stroke="#1414ff" stroke-width="1.9" stroke-linecap="butt"/>
<text x="836.40" y="550.00" font-family='"Liberation Sans", sans-serif' font-size="18.2" font-weight="bold" text-anchor="start" fill="#000" >Control</text>
<line x1="803.50" y1="559.50" x2="823.70" y2="559.50" stroke="#ff1414" stroke-width="1.9" stroke-linecap="butt"/>
<text x="836.40" y="565.20" font-family='"Liberation Sans", sans-serif' font-size="18.2" font-weight="bold" text-anchor="start" fill="#000" >Sham</text>
<line x1="803.50" y1="574.10" x2="823.70" y2="574.10" stroke="#1ebe1e" stroke-width="1.9" stroke-linecap="butt"/>
<text x="836.40" y="579.90" font-family='"Liberation Sans", sans-serif' font-size="18.2" font-weight="bold" text-anchor="start" fill="#000" >IoN-CCI+NS</text>
<line x1="803.00" y1="589.90" x2="823.20" y2="589.90" stroke="#b000e2" stroke-width="1.9" stroke-linecap="butt"/>
<text x="835.00" y="596.00" font-family='"Liberation Sans", sans-serif' font-size="18.2" font-weight="bold" text-anchor="start" fill="#000" >IoN-CCI+Morphine(4.0 mg/kg)</text>
<line x1="803.50" y1="607.30" x2="823.70" y2="607.30" stroke="#ff8414" stroke-width="1.9" stroke-linecap="butt"/>
<text x="836.40" y="613.30" font-family='"Liberation Sans", sans-serif' font-size="18.2" font-weight="bold" text-anchor="start" fill="#000" >IoN-CCI+N58A(1.0 mg/kg)</text>
<line x1="805.00" y1="626.40" x2="825.20" y2="626.40" stroke="#000000" stroke-width="1.9" stroke-linecap="butt"/>
<text x="837.20" y="632.40" font-family='"Liberation Sans", sans-serif' font-size="18.2" font-weight="bold" text-anchor="start" fill="#000" >IoN-CCI+N58A(2.0 mg/kg)</text>
<line x1="805.00" y1="643.80" x2="825.20" y2="643.80" stroke="#9f6c26" stroke-width="1.9" stroke-linecap="butt"/>
<text x="837.20" y="649.80" font-family='"Liberation Sans", sans-serif' font-size="18.2" font-weight="bold" text-anchor="start" fill="#000" >IoN-CCI+N58A(4.0 mg/kg)</text>
<defs>
<pattern id="p1" patternUnits="userSpaceOnUse" x="272.50" y="918.53" width="3.7" height="7.4"><rect width="3.7" height="7.4" fill="#fff"/><rect x="0.8" y="0.8" width="1.4" height="1.4" fill="#6a6a6a"/><rect x="2.65" y="4.5" width="1.4" height="1.4" fill="#6a6a6a"/></pattern>
<pattern id="p2" patternUnits="userSpaceOnUse" x="287.20" y="913.06" width="7.2" height="7.2"><rect width="7.2" height="7.2" fill="#fff"/><rect width="3.6" height="3.6" fill="#000"/><rect x="3.6" y="3.6" width="3.6" height="3.6" fill="#000"/></pattern>
<pattern id="p3" patternUnits="userSpaceOnUse" x="301.90" y="929.47" width="6.6" height="6.6" patternTransform="rotate(43 301.90 929.47)"><rect width="6.6" height="6.6" fill="#fff"/><rect width="6.6" height="2.5" fill="#000"/></pattern>
<pattern id="p4" patternUnits="userSpaceOnUse" x="316.60" y="934.12" width="6.1" height="7.3"><rect width="6.1" height="7.3" fill="#000"/><rect x="0" y="0" width="4.1" height="5.2" fill="#fff"/></pattern>
<pattern id="p5" patternUnits="userSpaceOnUse" x="331.30" y="915.79" width="6.5" height="6.5" patternTransform="rotate(45 331.30 915.79)"><rect width="6.5" height="6.5" fill="#000"/><rect x="1.3" y="1.3" width="3.9" height="3.9" fill="#fff"/></pattern>
<pattern id="p6" patternUnits="userSpaceOnUse" x="384.00" y="921.26" width="3.7" height="7.4"><rect width="3.7" height="7.4" fill="#fff"/><rect x="0.8" y="0.8" width="1.4" height="1.4" fill="#6a6a6a"/><rect x="2.65" y="4.5" width="1.4" height="1.4" fill="#6a6a6a"/></pattern>
<pattern id="p7" patternUnits="userSpaceOnUse" x="398.70" y="1068.46" width="7.2" height="7.2"><rect width="7.2" height="7.2" fill="#fff"/><rect width="3.6" height="3.6" fill="#000"/><rect x="3.6" y="3.6" width="3.6" height="3.6" fill="#000"/></pattern>
<pattern id="p8" patternUnits="userSpaceOnUse" x="413.40" y="942.88" width="6.6" height="6.6" patternTransform="rotate(43 413.40 942.88)"><rect width="6.6" height="6.6" fill="#fff"/><rect width="6.6" height="2.5" fill="#000"/></pattern>
<pattern id="p9" patternUnits="userSpaceOnUse" x="428.10" y="1033.17" width="6.1" height="7.3"><rect width="6.1" height="7.3" fill="#000"/><rect x="0" y="0" width="4.1" height="5.2" fill="#fff"/></pattern>
<pattern id="p10" patternUnits="userSpaceOnUse" x="442.80" y="1035.63" width="6.5" height="6.5" patternTransform="rotate(45 442.80 1035.63)"><rect width="6.5" height="6.5" fill="#000"/><rect x="1.3" y="1.3" width="3.9" height="3.9" fill="#fff"/></pattern>
<pattern id="p11" patternUnits="userSpaceOnUse" x="496.20" y="902.11" width="3.7" height="7.4"><rect width="3.7" height="7.4" fill="#fff"/><rect x="0.8" y="0.8" width="1.4" height="1.4" fill="#6a6a6a"/><rect x="2.65" y="4.5" width="1.4" height="1.4" fill="#6a6a6a"/></pattern>
<pattern id="p12" patternUnits="userSpaceOnUse" x="510.90" y="1095.27" width="7.2" height="7.2"><rect width="7.2" height="7.2" fill="#fff"/><rect width="3.6" height="3.6" fill="#000"/><rect x="3.6" y="3.6" width="3.6" height="3.6" fill="#000"/></pattern>
<pattern id="p13" patternUnits="userSpaceOnUse" x="525.60" y="959.02" width="6.6" height="6.6" patternTransform="rotate(43 525.60 959.02)"><rect width="6.6" height="6.6" fill="#fff"/><rect width="6.6" height="2.5" fill="#000"/></pattern>
<pattern id="p14" patternUnits="userSpaceOnUse" x="540.30" y="1063.54" width="6.1" height="7.3"><rect width="6.1" height="7.3" fill="#000"/><rect x="0" y="0" width="4.1" height="5.2" fill="#fff"/></pattern>
<pattern id="p15" patternUnits="userSpaceOnUse" x="555.00" y="1066.00" width="6.5" height="6.5" patternTransform="rotate(45 555.00 1066.00)"><rect width="6.5" height="6.5" fill="#000"/><rect x="1.3" y="1.3" width="3.9" height="3.9" fill="#fff"/></pattern>
<pattern id="p16" patternUnits="userSpaceOnUse" x="608.10" y="924.00" width="3.7" height="7.4"><rect width="3.7" height="7.4" fill="#fff"/><rect x="0.8" y="0.8" width="1.4" height="1.4" fill="#6a6a6a"/><rect x="2.65" y="4.5" width="1.4" height="1.4" fill="#6a6a6a"/></pattern>
<pattern id="p17" patternUnits="userSpaceOnUse" x="622.80" y="1117.71" width="7.2" height="7.2"><rect width="7.2" height="7.2" fill="#fff"/><rect width="3.6" height="3.6" fill="#000"/><rect x="3.6" y="3.6" width="3.6" height="3.6" fill="#000"/></pattern>
<pattern id="p18" patternUnits="userSpaceOnUse" x="637.50" y="956.56" width="6.6" height="6.6" patternTransform="rotate(43 637.50 956.56)"><rect width="6.6" height="6.6" fill="#fff"/><rect width="6.6" height="2.5" fill="#000"/></pattern>
<pattern id="p19" patternUnits="userSpaceOnUse" x="652.20" y="1084.60" width="6.1" height="7.3"><rect width="6.1" height="7.3" fill="#000"/><rect x="0" y="0" width="4.1" height="5.2" fill="#fff"/></pattern>
<pattern id="p20" patternUnits="userSpaceOnUse" x="666.90" y="1106.76" width="6.5" height="6.5" patternTransform="rotate(45 666.90 1106.76)"><rect width="6.5" height="6.5" fill="#000"/><rect x="1.3" y="1.3" width="3.9" height="3.9" fill="#fff"/></pattern>
<pattern id="p21" patternUnits="userSpaceOnUse" x="648.10" y="902.80" width="3.7" height="7.4"><rect width="3.7" height="7.4" fill="#fff"/><rect x="0.8" y="0.8" width="1.4" height="1.4" fill="#6a6a6a"/><rect x="2.65" y="4.5" width="1.4" height="1.4" fill="#6a6a6a"/></pattern>
<pattern id="p22" patternUnits="userSpaceOnUse" x="648.80" y="924.70" width="7.2" height="7.2"><rect width="7.2" height="7.2" fill="#fff"/><rect width="3.6" height="3.6" fill="#000"/><rect x="3.6" y="3.6" width="3.6" height="3.6" fill="#000"/></pattern>
<pattern id="p23" patternUnits="userSpaceOnUse" x="649.70" y="948.30" width="6.6" height="6.6" patternTransform="rotate(43 649.70 948.30)"><rect width="6.6" height="6.6" fill="#fff"/><rect width="6.6" height="2.5" fill="#000"/></pattern>
<pattern id="p24" patternUnits="userSpaceOnUse" x="650.40" y="970.20" width="6.1" height="7.3"><rect width="6.1" height="7.3" fill="#000"/><rect x="0" y="0" width="4.1" height="5.2" fill="#fff"/></pattern>
<pattern id="p25" patternUnits="userSpaceOnUse" x="652.30" y="995.00" width="6.5" height="6.5" patternTransform="rotate(45 652.30 995.00)"><rect width="6.5" height="6.5" fill="#000"/><rect x="1.3" y="1.3" width="3.9" height="3.9" fill="#fff"/></pattern>
</defs>
<rect x="234.95" y="853.60" width="4.50" height="277.30" fill="#000" />
<rect x="234.95" y="1127.60" width="447.95" height="3.20" fill="#000" />
<rect x="232.70" y="1127.40" width="3.00" height="3.60" fill="#000" />
<text x="218.60" y="1135.40" font-family='"Liberation Sans", sans-serif' font-size="17.5" font-weight="bold" text-anchor="end" fill="#000" >0</text>
<rect x="232.70" y="1072.68" width="3.00" height="3.60" fill="#000" />
<text x="218.60" y="1080.68" font-family='"Liberation Sans", sans-serif' font-size="17.5" font-weight="bold" text-anchor="end" fill="#000" >2</text>
<rect x="232.70" y="1017.96" width="3.00" height="3.60" fill="#000" />
<text x="218.60" y="1025.96" font-family='"Liberation Sans", sans-serif' font-size="17.5" font-weight="bold" text-anchor="end" fill="#000" >4</text>
<rect x="232.70" y="963.24" width="3.00" height="3.60" fill="#000" />
<text x="218.60" y="971.24" font-family='"Liberation Sans", sans-serif' font-size="17.5" font-weight="bold" text-anchor="end" fill="#000" >6</text>
<rect x="232.70" y="908.52" width="3.00" height="3.60" fill="#000" />
<text x="218.60" y="916.52" font-family='"Liberation Sans", sans-serif' font-size="17.5" font-weight="bold" text-anchor="end" fill="#000" >8</text>
<rect x="232.70" y="853.80" width="3.00" height="3.60" fill="#000" />
<text x="218.60" y="861.80" font-family='"Liberation Sans", sans-serif' font-size="17.5" font-weight="bold" text-anchor="end" fill="#000" >10</text>
<rect x="289.40" y="1129.20" width="3.20" height="5.00" fill="#000" />
<rect x="401.90" y="1129.20" width="3.20" height="5.00" fill="#000" />
<rect x="514.10" y="1129.20" width="3.20" height="5.00" fill="#000" />
<rect x="625.50" y="1129.20" width="3.20" height="5.00" fill="#000" />
<text x="0" y="0" font-family='"Liberation Sans", sans-serif' font-size="17" font-weight="bold" text-anchor="end" transform="translate(296.00,1139.60) rotate(-45)">14 d</text>
<text x="0" y="0" font-family='"Liberation Sans", sans-serif' font-size="17" font-weight="bold" text-anchor="end" transform="translate(408.50,1139.60) rotate(-45)">0.5 h</text>
<text x="0" y="0" font-family='"Liberation Sans", sans-serif' font-size="17" font-weight="bold" text-anchor="end" transform="translate(520.70,1139.60) rotate(-45)">2 h</text>
<text x="0" y="0" font-family='"Liberation Sans", sans-serif' font-size="17" font-weight="bold" text-anchor="end" transform="translate(632.10,1139.60) rotate(-45)">4 h</text>
<rect x="242.70" y="1126.06" width="9.70" height="1.54" fill="#b0b0b0" stroke="#888" stroke-width="1.0"/>
<line x1="247.55" y1="1123.73" x2="247.55" y2="1126.46" stroke="#000" stroke-width="1.4" stroke-linecap="butt"/>
<line x1="244.95" y1="1123.73" x2="250.15" y2="1123.73" stroke="#000" stroke-width="1.6" stroke-linecap="butt"/>
<rect x="256.80" y="1125.86" width="10.90" height="1.74" fill="#000" />
<line x1="262.25" y1="1123.73" x2="262.25" y2="1126.46" stroke="#000" stroke-width="1.4" stroke-linecap="butt"/>
<line x1="259.65" y1="1123.73" x2="264.85" y2="1123.73" stroke="#000" stroke-width="1.6" stroke-linecap="butt"/>
<rect x="272.20" y="919.23" width="9.50" height="208.37" fill="url(#p1)" stroke="#000" stroke-width="1.5"/>
<line x1="276.95" y1="907.58" x2="276.95" y2="918.53" stroke="#000" stroke-width="1.4" stroke-linecap="butt"/>
<line x1="274.35" y1="907.58" x2="279.55" y2="907.58" stroke="#000" stroke-width="1.6" stroke-linecap="butt"/>
<rect x="286.90" y="913.76" width="9.50" height="213.84" fill="url(#p2)" stroke="#000" stroke-width="1.5"/>
<line x1="291.65" y1="896.64" x2="291.65" y2="913.06" stroke="#000" stroke-width="1.4" stroke-linecap="butt"/>
<line x1="289.05" y1="896.64" x2="294.25" y2="896.64" stroke="#000" stroke-width="1.6" stroke-linecap="butt"/>
<rect x="301.60" y="930.17" width="9.50" height="197.43" fill="url(#p3)" stroke="#000" stroke-width="1.5"/>
<line x1="306.35" y1="919.35" x2="306.35" y2="929.47" stroke="#000" stroke-width="1.4" stroke-linecap="butt"/>
<line x1="303.75" y1="919.35" x2="308.95" y2="919.35" stroke="#000" stroke-width="1.6" stroke-linecap="butt"/>
<rect x="316.30" y="934.82" width="9.50" height="192.78" fill="url(#p4)" stroke="#000" stroke-width="1.5"/>
<line x1="321.05" y1="921.26" x2="321.05" y2="934.12" stroke="#000" stroke-width="1.4" stroke-linecap="butt"/>
<line x1="318.45" y1="921.26" x2="323.65" y2="921.26" stroke="#000" stroke-width="1.6" stroke-linecap="butt"/>
<rect x="331.00" y="916.49" width="9.50" height="211.11" fill="url(#p5)" stroke="#000" stroke-width="1.5"/>
<line x1="335.75" y1="904.03" x2="335.75" y2="915.79" stroke="#000" stroke-width="1.4" stroke-linecap="butt"/>
<line x1="333.15" y1="904.03" x2="338.35" y2="904.03" stroke="#000" stroke-width="1.6" stroke-linecap="butt"/>
<rect x="368.30" y="1125.86" width="10.90" height="1.74" fill="#000" />
<line x1="373.75" y1="1123.73" x2="373.75" y2="1126.46" stroke="#000" stroke-width="1.4" stroke-linecap="butt"/>
<line x1="371.15" y1="1123.73" x2="376.35" y2="1123.73" stroke="#000" stroke-width="1.6" stroke-linecap="butt"/>
<rect x="383.70" y="921.96" width="9.50" height="205.64" fill="url(#p6)" stroke="#000" stroke-width="1.5"/>
<line x1="388.45" y1="907.58" x2="388.45" y2="921.26" stroke="#000" stroke-width="1.4" stroke-linecap="butt"/>
<line x1="385.85" y1="907.58" x2="391.05" y2="907.58" stroke="#000" stroke-width="1.6" stroke-linecap="butt"/>
<rect x="398.40" y="1069.16" width="9.50" height="58.44" fill="url(#p7)" stroke="#000" stroke-width="1.5"/>
<line x1="403.15" y1="1056.97" x2="403.15" y2="1068.46" stroke="#000" stroke-width="1.4" stroke-linecap="butt"/>
<line x1="400.55" y1="1056.97" x2="405.75" y2="1056.97" stroke="#000" stroke-width="1.6" stroke-linecap="butt"/>
<rect x="413.10" y="943.58" width="9.50" height="184.02" fill="url(#p8)" stroke="#000" stroke-width="1.5"/>
<line x1="417.85" y1="931.11" x2="417.85" y2="942.88" stroke="#000" stroke-width="1.4" stroke-linecap="butt"/>
<line x1="415.25" y1="931.11" x2="420.45" y2="931.11" stroke="#000" stroke-width="1.6" stroke-linecap="butt"/>
<rect x="427.80" y="1033.87" width="9.50" height="93.73" fill="url(#p9)" stroke="#000" stroke-width="1.5"/>
<line x1="432.55" y1="1025.78" x2="432.55" y2="1033.17" stroke="#000" stroke-width="1.4" stroke-linecap="butt"/>
<line x1="429.95" y1="1025.78" x2="435.15" y2="1025.78" stroke="#000" stroke-width="1.6" stroke-linecap="butt"/>
<rect x="442.50" y="1036.33" width="9.50" height="91.27" fill="url(#p10)" stroke="#000" stroke-width="1.5"/>
<line x1="447.25" y1="1028.52" x2="447.25" y2="1035.63" stroke="#000" stroke-width="1.4" stroke-linecap="butt"/>
<line x1="444.65" y1="1028.52" x2="449.85" y2="1028.52" stroke="#000" stroke-width="1.6" stroke-linecap="butt"/>
<rect x="466.40" y="1126.61" width="9.70" height="0.99" fill="#b0b0b0" stroke="#888" stroke-width="1.0"/>
<line x1="471.25" y1="1124.82" x2="471.25" y2="1127.01" stroke="#000" stroke-width="1.4" stroke-linecap="butt"/>
<line x1="468.65" y1="1124.82" x2="473.85" y2="1124.82" stroke="#000" stroke-width="1.6" stroke-linecap="butt"/>
<rect x="495.90" y="902.81" width="9.50" height="224.79" fill="url(#p11)" stroke="#000" stroke-width="1.5"/>
<line x1="500.65" y1="891.99" x2="500.65" y2="902.11" stroke="#000" stroke-width="1.4" stroke-linecap="butt"/>
<line x1="498.05" y1="891.99" x2="503.25" y2="891.99" stroke="#000" stroke-width="1.6" stroke-linecap="butt"/>
<rect x="510.60" y="1095.97" width="9.50" height="31.63" fill="url(#p12)" stroke="#000" stroke-width="1.5"/>
<line x1="515.35" y1="1092.54" x2="515.35" y2="1095.27" stroke="#000" stroke-width="1.4" stroke-linecap="butt"/>
<line x1="512.75" y1="1092.54" x2="517.95" y2="1092.54" stroke="#000" stroke-width="1.6" stroke-linecap="butt"/>
<rect x="525.30" y="959.72" width="9.50" height="167.88" fill="url(#p13)" stroke="#000" stroke-width="1.5"/>
<line x1="530.05" y1="945.89" x2="530.05" y2="959.02" stroke="#000" stroke-width="1.4" stroke-linecap="butt"/>
<line x1="527.45" y1="945.89" x2="532.65" y2="945.89" stroke="#000" stroke-width="1.6" stroke-linecap="butt"/>
<rect x="540.00" y="1064.24" width="9.50" height="63.36" fill="url(#p14)" stroke="#000" stroke-width="1.5"/>
<line x1="544.75" y1="1056.15" x2="544.75" y2="1063.54" stroke="#000" stroke-width="1.4" stroke-linecap="butt"/>
<line x1="542.15" y1="1056.15" x2="547.35" y2="1056.15" stroke="#000" stroke-width="1.6" stroke-linecap="butt"/>
<rect x="554.70" y="1066.70" width="9.50" height="60.90" fill="url(#p15)" stroke="#000" stroke-width="1.5"/>
<line x1="559.45" y1="1055.60" x2="559.45" y2="1066.00" stroke="#000" stroke-width="1.4" stroke-linecap="butt"/>
<line x1="556.85" y1="1055.60" x2="562.05" y2="1055.60" stroke="#000" stroke-width="1.6" stroke-linecap="butt"/>
<rect x="607.80" y="924.70" width="9.50" height="202.90" fill="url(#p16)" stroke="#000" stroke-width="1.5"/>
<line x1="612.55" y1="910.32" x2="612.55" y2="924.00" stroke="#000" stroke-width="1.4" stroke-linecap="butt"/>
<line x1="609.95" y1="910.32" x2="615.15" y2="910.32" stroke="#000" stroke-width="1.6" stroke-linecap="butt"/>
<rect x="622.50" y="1118.41" width="9.50" height="9.19" fill="url(#p17)" stroke="#000" stroke-width="1.5"/>
<line x1="627.25" y1="1113.60" x2="627.25" y2="1117.71" stroke="#000" stroke-width="1.4" stroke-linecap="butt"/>
<line x1="624.65" y1="1113.60" x2="629.85" y2="1113.60" stroke="#000" stroke-width="1.6" stroke-linecap="butt"/>
<rect x="637.20" y="957.26" width="9.50" height="170.34" fill="url(#p18)" stroke="#000" stroke-width="1.5"/>
<line x1="641.95" y1="946.71" x2="641.95" y2="956.56" stroke="#000" stroke-width="1.4" stroke-linecap="butt"/>
<line x1="639.35" y1="946.71" x2="644.55" y2="946.71" stroke="#000" stroke-width="1.6" stroke-linecap="butt"/>
<rect x="651.90" y="1085.30" width="9.50" height="42.30" fill="url(#p19)" stroke="#000" stroke-width="1.5"/>
<line x1="656.65" y1="1080.50" x2="656.65" y2="1084.60" stroke="#000" stroke-width="1.4" stroke-linecap="butt"/>
<line x1="654.05" y1="1080.50" x2="659.25" y2="1080.50" stroke="#000" stroke-width="1.6" stroke-linecap="butt"/>
<rect x="666.60" y="1107.46" width="9.50" height="20.14" fill="url(#p20)" stroke="#000" stroke-width="1.5"/>
<line x1="671.35" y1="1102.11" x2="671.35" y2="1106.76" stroke="#000" stroke-width="1.4" stroke-linecap="butt"/>
<line x1="668.75" y1="1102.11" x2="673.95" y2="1102.11" stroke="#000" stroke-width="1.6" stroke-linecap="butt"/>
<rect x="647.20" y="855.20" width="18.60" height="10.60" fill="#fff" stroke="#000" stroke-width="1.2"/>
<rect x="647.10" y="880.50" width="20.00" height="11.80" fill="#000" />
<rect x="647.85" y="902.55" width="20.20" height="11.00" fill="url(#p21)" stroke="#000" stroke-width="1.5"/>
<rect x="648.55" y="924.45" width="19.50" height="11.90" fill="url(#p22)" stroke="#000" stroke-width="1.5"/>
<rect x="649.45" y="948.05" width="19.70" height="11.40" fill="url(#p23)" stroke="#000" stroke-width="1.5"/>
<rect x="650.15" y="969.95" width="19.70" height="11.90" fill="url(#p24)" stroke="#000" stroke-width="1.5"/>
<rect x="652.05" y="994.75" width="19.70" height="11.90" fill="url(#p25)" stroke="#000" stroke-width="1.5"/>
<text x="677.70" y="865.60" font-family='"Liberation Sans", sans-serif' font-size="17.5" font-weight="bold" text-anchor="start" fill="#000" >Control</text>
<text x="678.40" y="891.40" font-family='"Liberation Sans", sans-serif' font-size="17.5" font-weight="bold" text-anchor="start" fill="#000" >Sham</text>
<text x="678.90" y="913.60" font-family='"Liberation Sans", sans-serif' font-size="17.5" font-weight="bold" text-anchor="start" fill="#000" >IoN-CCI+NS</text>
<text x="678.90" y="936.30" font-family='"Liberation Sans", sans-serif' font-size="17.5" font-weight="bold" text-anchor="start" fill="#000" >IoN-CCI+Mor(4.0 mg/kg)</text>
<text x="680.10" y="959.10" font-family='"Liberation Sans", sans-serif' font-size="17.5" font-weight="bold" text-anchor="start" fill="#000" >IoN-CCI+N58A(1.0 mg/kg)</text>
<text x="681.30" y="981.50" font-family='"Liberation Sans", sans-serif' font-size="17.5" font-weight="bold" text-anchor="start" fill="#000" >IoN-CCI+N58A(2.0 mg/kg)</text>
<text x="683.10" y="1006.30" font-family='"Liberation Sans", sans-serif' font-size="17.5" font-weight="bold" text-anchor="start" fill="#000" >IoN-CCI+N58A(4.0 mg/kg)</text>
<path d="M391.38,1049.42L391.38,1046.42M391.38,1049.42L394.23,1048.50M391.38,1049.42L393.14,1051.85M391.38,1049.42L389.61,1051.85M391.38,1049.42L388.52,1048.50" stroke="#000" stroke-width="1.25" stroke-linecap="round" fill="none"/>
<path d="M399.48,1049.42L399.48,1046.42M399.48,1049.42L402.33,1048.50M399.48,1049.42L401.24,1051.85M399.48,1049.42L397.71,1051.85M399.48,1049.42L396.62,1048.50" stroke="#000" stroke-width="1.25" stroke-linecap="round" fill="none"/>
<path d="M407.58,1049.42L407.58,1046.42M407.58,1049.42L410.43,1048.50M407.58,1049.42L409.34,1051.85M407.58,1049.42L405.81,1051.85M407.58,1049.42L404.72,1048.50" stroke="#000" stroke-width="1.25" stroke-linecap="round" fill="none"/>
<path d="M426.88,1013.92L426.88,1010.92M426.88,1013.92L429.73,1013.00M426.88,1013.92L428.64,1016.35M426.88,1013.92L425.11,1016.35M426.88,1013.92L424.02,1013.00" stroke="#000" stroke-width="1.25" stroke-linecap="round" fill="none"/>
<path d="M434.98,1013.92L434.98,1010.92M434.98,1013.92L437.83,1013.00M434.98,1013.92L436.74,1016.35M434.98,1013.92L433.21,1016.35M434.98,1013.92L432.12,1013.00" stroke="#000" stroke-width="1.25" stroke-linecap="round" fill="none"/>
<path d="M443.08,1013.92L443.08,1010.92M443.08,1013.92L445.93,1013.00M443.08,1013.92L444.84,1016.35M443.08,1013.92L441.31,1016.35M443.08,1013.92L440.22,1013.00" stroke="#000" stroke-width="1.25" stroke-linecap="round" fill="none"/>
<path d="M437.78,1026.22L437.78,1023.22M437.78,1026.22L440.63,1025.30M437.78,1026.22L439.54,1028.65M437.78,1026.22L436.01,1028.65M437.78,1026.22L434.92,1025.30" stroke="#000" stroke-width="1.25" stroke-linecap="round" fill="none"/>
<path d="M445.88,1026.22L445.88,1023.22M445.88,1026.22L448.73,1025.30M445.88,1026.22L447.64,1028.65M445.88,1026.22L444.11,1028.65M445.88,1026.22L443.02,1025.30" stroke="#000" stroke-width="1.25" stroke-linecap="round" fill="none"/>
<path d="M453.98,1026.22L453.98,1023.22M453.98,1026.22L456.83,1025.30M453.98,1026.22L455.74,1028.65M453.98,1026.22L452.21,1028.65M453.98,1026.22L451.12,1025.30" stroke="#000" stroke-width="1.25" stroke-linecap="round" fill="none"/>
<path d="M498.88,1086.42L498.88,1083.42M498.88,1086.42L501.73,1085.50M498.88,1086.42L500.64,1088.85M498.88,1086.42L497.11,1088.85M498.88,1086.42L496.02,1085.50" stroke="#000" stroke-width="1.25" stroke-linecap="round" fill="none"/>
<path d="M506.98,1086.42L506.98,1083.42M506.98,1086.42L509.83,1085.50M506.98,1086.42L508.74,1088.85M506.98,1086.42L505.21,1088.85M506.98,1086.42L504.12,1085.50" stroke="#000" stroke-width="1.25" stroke-linecap="round" fill="none"/>
<path d="M515.08,1086.42L515.08,1083.42M515.08,1086.42L517.93,1085.50M515.08,1086.42L516.84,1088.85M515.08,1086.42L513.31,1088.85M515.08,1086.42L512.22,1085.50" stroke="#000" stroke-width="1.25" stroke-linecap="round" fill="none"/>
<path d="M535.08,1042.92L535.08,1039.92M535.08,1042.92L537.93,1042.00M535.08,1042.92L536.84,1045.35M535.08,1042.92L533.31,1045.35M535.08,1042.92L532.22,1042.00" stroke="#000" stroke-width="1.25" stroke-linecap="round" fill="none"/>
<path d="M543.18,1042.92L543.18,1039.92M543.18,1042.92L546.03,1042.00M543.18,1042.92L544.94,1045.35M543.18,1042.92L541.41,1045.35M543.18,1042.92L540.32,1042.00" stroke="#000" stroke-width="1.25" stroke-linecap="round" fill="none"/>
<path d="M551.28,1042.92L551.28,1039.92M551.28,1042.92L554.13,1042.00M551.28,1042.92L553.04,1045.35M551.28,1042.92L549.51,1045.35M551.28,1042.92L548.42,1042.00" stroke="#000" stroke-width="1.25" stroke-linecap="round" fill="none"/>
<path d="M560.48,1048.42L560.48,1045.42M560.48,1048.42L563.33,1047.50M560.48,1048.42L562.24,1050.85M560.48,1048.42L558.71,1050.85M560.48,1048.42L557.62,1047.50" stroke="#000" stroke-width="1.25" stroke-linecap="round" fill="none"/>
<path d="M568.58,1048.42L568.58,1045.42M568.58,1048.42L571.43,1047.50M568.58,1048.42L570.34,1050.85M568.58,1048.42L566.81,1050.85M568.58,1048.42L565.72,1047.50" stroke="#000" stroke-width="1.25" stroke-linecap="round" fill="none"/>
<path d="M576.68,1048.42L576.68,1045.42M576.68,1048.42L579.53,1047.50M576.68,1048.42L578.44,1050.85M576.68,1048.42L574.91,1050.85M576.68,1048.42L573.82,1047.50" stroke="#000" stroke-width="1.25" stroke-linecap="round" fill="none"/>
<path d="M617.88,1107.03L617.88,1104.03M617.88,1107.03L620.73,1106.10M617.88,1107.03L619.64,1109.45M617.88,1107.03L616.11,1109.45M617.88,1107.03L615.02,1106.10" stroke="#000" stroke-width="1.25" stroke-linecap="round" fill="none"/>
<path d="M625.98,1107.03L625.98,1104.03M625.98,1107.03L628.83,1106.10M625.98,1107.03L627.74,1109.45M625.98,1107.03L624.21,1109.45M625.98,1107.03L623.12,1106.10" stroke="#000" stroke-width="1.25" stroke-linecap="round" fill="none"/>
<path d="M634.08,1107.03L634.08,1104.03M634.08,1107.03L636.93,1106.10M634.08,1107.03L635.84,1109.45M634.08,1107.03L632.31,1109.45M634.08,1107.03L631.22,1106.10" stroke="#000" stroke-width="1.25" stroke-linecap="round" fill="none"/>
<path d="M647.58,1073.53L647.58,1070.53M647.58,1073.53L650.43,1072.60M647.58,1073.53L649.34,1075.95M647.58,1073.53L645.81,1075.95M647.58,1073.53L644.72,1072.60" stroke="#000" stroke-width="1.25" stroke-linecap="round" fill="none"/>
<path d="M655.68,1073.53L655.68,1070.53M655.68,1073.53L658.53,1072.60M655.68,1073.53L657.44,1075.95M655.68,1073.53L653.91,1075.95M655.68,1073.53L652.82,1072.60" stroke="#000" stroke-width="1.25" stroke-linecap="round" fill="none"/>
<path d="M663.78,1073.53L663.78,1070.53M663.78,1073.53L666.63,1072.60M663.78,1073.53L665.54,1075.95M663.78,1073.53L662.01,1075.95M663.78,1073.53L660.92,1072.60" stroke="#000" stroke-width="1.25" stroke-linecap="round" fill="none"/>
<path d="M665.78,1094.62L665.78,1091.62M665.78,1094.62L668.63,1093.70M665.78,1094.62L667.54,1097.05M665.78,1094.62L664.01,1097.05M665.78,1094.62L662.92,1093.70" stroke="#000" stroke-width="1.25" stroke-linecap="round" fill="none"/>
<path d="M673.88,1094.62L673.88,1091.62M673.88,1094.62L676.73,1093.70M673.88,1094.62L675.64,1097.05M673.88,1094.62L672.11,1097.05M673.88,1094.62L671.02,1093.70" stroke="#000" stroke-width="1.25" stroke-linecap="round" fill="none"/>
<path d="M681.98,1094.62L681.98,1091.62M681.98,1094.62L684.83,1093.70M681.98,1094.62L683.74,1097.05M681.98,1094.62L680.21,1097.05M681.98,1094.62L679.12,1093.70" stroke="#000" stroke-width="1.25" stroke-linecap="round" fill="none"/>
<text x="363.80" y="1202.60" font-family='"Liberation Sans", sans-serif' font-size="19.6" font-weight="bold" text-anchor="start" fill="#000" >Date after surgery(d)</text>
<text x="0" y="0" font-family='"Liberation Sans", sans-serif' font-size="19.2" font-weight="bold" transform="translate(198.6,1111.6) rotate(-90)">Facial grooming frequency</text>
<text x="225.80" y="371.00" font-family='"Liberation Serif", serif' font-size="25" fill="#000" textLength="27.0" lengthAdjust="spacingAndGlyphs">(<tspan font-weight="bold">a</tspan>)</text>
<text x="808.70" y="370.60" font-family='"Liberation Serif", serif' font-size="25" fill="#000" textLength="30.9" lengthAdjust="spacingAndGlyphs">(<tspan font-weight="bold">b</tspan>)</text>
<text x="225.60" y="804.40" font-family='"Liberation Serif", serif' font-size="25" fill="#000" textLength="26.2" lengthAdjust="spacingAndGlyphs">(<tspan font-weight="bold">c</tspan>)</text>
<text x="808.10" y="802.40" font-family='"Liberation Serif", serif' font-size="25" fill="#000" textLength="31.6" lengthAdjust="spacingAndGlyphs">(<tspan font-weight="bold">d</tspan>)</text>
<text x="526.50" y="1246.70" font-family='"Liberation Serif", serif' font-size="25" fill="#000" textLength="28.2" lengthAdjust="spacingAndGlyphs">(<tspan font-weight="bold">e</tspan>)</text>
</svg></body></html>
